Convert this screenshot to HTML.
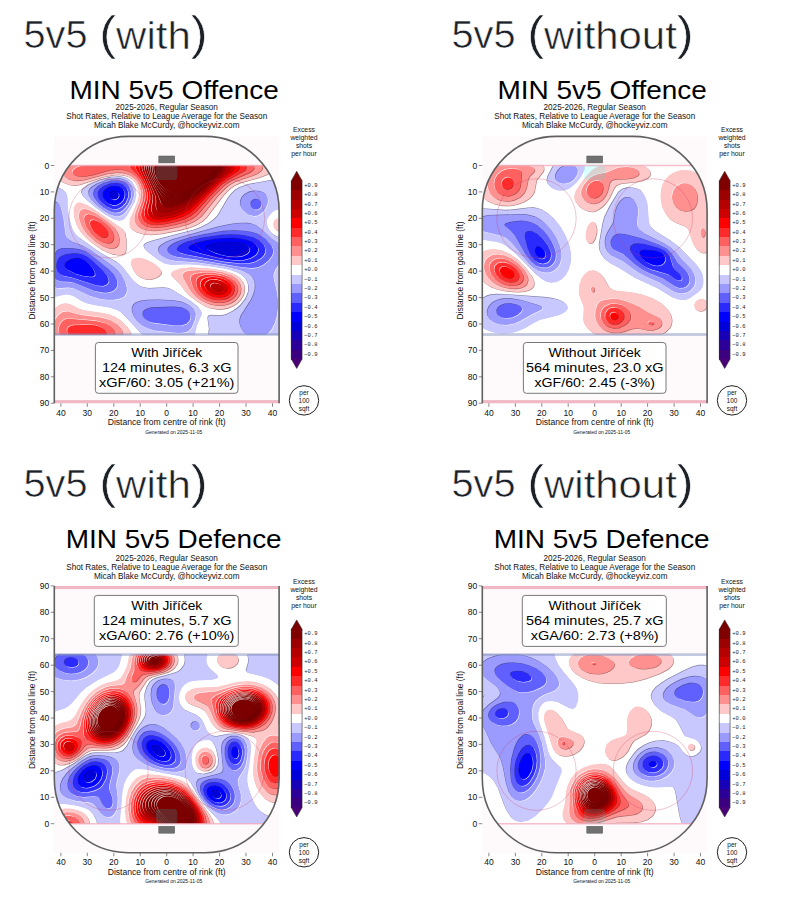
<!DOCTYPE html><html><head><meta charset="utf-8"><style>html,body{margin:0;padding:0;background:#fff;width:788px;height:898px;overflow:hidden}svg{position:absolute;left:0;top:0;font-family:"Liberation Sans",sans-serif}</style></head><body><svg width="788" height="898" viewBox="0 0 788 898"><defs><clipPath id="c0"><path d="M54.3 403.2L54.3 210.4A74.1 74.0 0 0 1 128.3 136.4L205.1 136.4A74.1 74.0 0 0 1 279.1 210.4L279.1 403.2Z"/></clipPath><clipPath id="c0r"><rect x="34.4" y="165.5" width="264.5" height="169.1"/></clipPath></defs><rect x="54.3" y="136.4" width="224.8" height="266.8" fill="#fefafb"/><g clip-path="url(#c0r)"><defs><path id="h1" d="M60.9 164l2.4-1.2l207.5 0l1.7 2.7l.4 2.6l-1.2 2.6l-1.2 1.4l-4.6 2.9l-6.6 2.5l-18.6 5.1l-5.9 2.7l-4.1 2.6l-3.2 2.8l-4.5 5.1l-16.2 21.2l-4.1 3.9l-5.6 3.6l-7.3 3l-9.9 2.6l-18.5 3.7l-10.6 .9l-7.9-.8l-6.6-1.9l-5.2-3.1l-1.5-2.7l-.2-3.9l.8-4l7.4-17.2l1.3-6.6l-.4-3.9l-1.7-5.3l-2.5-4l-2.6-2.6l-3.4-2l-3.9-1.3l-5.3-.7l-5.3 .2l-10.6 2.1l-23.8 7.7l-5.3 .7l-3.9-.4l-5.3-1.7l-7.1-3.3l-3.8-2.6l-1.8-2.7l0-2.6l1.5-2.7l2.8-2.6l4.1-2.7zM76.8 203.2l1.3-.6l2.6 0l6.7 2.6l7.9 5l27.1 18.7l2.6 3.9l1.1 6.6l-.1 10.6l-.8 2.6l-.8 1.1l-2.7 1.1l-3.9 .2l-5.3-.9l-5.3-1.8l-5.3-2.7l-6.6-4.3l-6-4.5l-5.6-5.3l-3.3-4l-2.5-4l-1.9-3.9l-1.6-5.3l-.8-5.3l.1-3.9l.6-2.7l1.7-2.6zM276.5 218.8l2.6-.4l1.3 .5l1.4 1l1.3 1.9l0 6.3l-1.3 1.8l-1.4 .8l-1.3 .3l-2.6-.6l-2.6-2.9l-.7-3.9l.6-2.1l1.4-1.9zM136.3 257.8l3.9 .1l4 .8l7.1 3.2l3.8 2.6l4.2 4l1.9 2.6l.3 1.4l-.3 1.3l-2.4 2.5l-2.5 1.4l-5.5 1.8l-5.3-.2l-5.3-2l-3-2.2l-2.4-2.6l-2.4-4l-1.4-4l-.2-2.6l1.2-2.6l3.5-1.4zM181.2 268.2l10.6-.9l18.5 1.2l13.3 2l9.2 2.9l3.3 1.7l3.3 2.4l3.4 4.2l1.1 2.7l.7 3.9l-.4 4l-.8 2.6l-2.6 4.5l-4 4l-4 2.6l-5.3 2.1l-5.3 1l-5.2 0l-6.7-1.1l-5.2-1.7l-6.7-4l-9.8-7.4l-3.7-3.9l-5.9-8l-7.8-7.9l-.3-1.3l.5-1.3l1.6-1.4l6.9-2.6zM60.9 304.1l4-.9l2.6 .2l2.7 .8l7.7 3.9l4.2 1.6l5.3 1.1l15.8 2.1l5.3 1.3l5.3 1.9l6.6 4l6.5 6.5l3.5 5.3l1 2.7l.2 2.6l-81.3 0l0-22.4l5.3-7.2l2.7-2.1l2.5-1.3z"/><path id="h2" d="M74.1 163.7l3-.9l182.8 0l2.2 2.7l.5 2.6l-1.5 2.6l-3.7 2.7l-4.7 2l-17.2 5.9l-5 2.7l-3.7 2.6l-9.1 9.2l-16.1 19.9l-3.2 2.8l-3.9 2.8l-6.6 3l-9.3 2.5l-14.5 3l-10.6 .9l-6.6-.7l-5.3-1.6l-4-2.5l-2.6-3.6l-.6-2.7l.2-3.9l1.1-4l4.3-10.6l1.1-6.6l-.7-5.3l-1.5-4.3l-2.6-4.6l-2.8-2.9l-3.8-2.5l-4-1.5l-4-.8l-5.3-.1l-9.2 1.3l-23.8 6.2l-6.6 .6l-5.2-.6l-3.7-1.3l-3-2.1l-1.6-1.9l-.4-2.6l1.4-2.7l1.3-1.3l3.2-2.1l4.2-1.9zM83.4 209.1l2.6 .1l2.7 .7l6.6 3.3l11.4 7.7l7.5 6.6l3.5 5.3l1.5 5.3l-.3 5.3l-1.1 2.3l-1.4 1.4l-2.6 1.2l-2.6 .2l-4-.7l-4-1.5l-7.9-4.8l-8-7.3l-3.1-4l-2.3-4l-1.7-3.9l-1.1-4l-.1-4l.7-2.6l1-1.4l2.7-1.2zM187.9 271.1l9.2-.9l14.6 .4l10.5 1.6l8 2.6l5.3 3.2l2.4 2.4l1.7 2.6l1.4 5.3l-.4 4l-1 2.6l-2.8 3.9l-2.7 2.3l-3.9 2.3l-5.3 1.6l-4 .4l-5.3-.2l-5.3-1l-5.2-1.9l-5.3-3l-4.2-3.1l-3.9-3.9l-2.7-4l-5.7-10.6l-.7-2.6l.4-1.3l1.3-1.3l3.2-1.4zM63.5 311.9l4-.3l13.2 3.5l19.9 2.3l9.2 2.7l6.6 3.9l3.9 3.9l1.6 2.7l.8 2.6l-.4 4l-68.2 0l-1.2-2.6l-.7-4l1.1-6.6l1.7-4l2.7-3.9l2.8-2.7l2.4-1.3z"/><path id="h3" d="M90 164.1l9.3-.5l15.8 .3l7.2-1.1l128.7 0l2.6 2.7l.4 2.6l-1.3 2.2l-2.3 1.8l-17.6 7.5l-5.3 3l-3.5 2.7l-10.5 10.5l-14.7 17.2l-3 2.9l-4 2.8l-6.6 3l-9.2 2.6l-11.9 2.5l-9.3 .7l-5.3-.5l-5.3-1.6l-4-2.9l-1.7-2.9l-.6-2.6l.3-4l4.6-13.2l.5-6.6l-1.1-5.3l-2-4.9l-2.6-4.3l-2.6-3l-4-2.9l-4-1.8l-3.9-1.2l-5.3-.6l-8 .8l-16.6 4.7l-8.5 1.6l-7.4-.3l-3.2-1.2l-1.4-1.4l-.3-1.3l.5-1.4l2.9-2.6l6.3-2.5l7.5-1.5zM88.7 214.3l5.3 1.4l5.3 2.9l6.6 5l3.8 3.9l2.6 4l1.4 4l-.2 3.9l-1.8 2.7l-1.9 .9l-2.6 .2l-5.3-1.5l-5.8-3.6l-5.7-5.3l-4.4-6.6l-1.7-5.3l-.1-2.6l.5-1.8l1.3-1.5l2.4-.7zM195.8 273.7l7.9-1.1l9.3 .2l7.9 1.1l7.4 2.5l5.8 4l2.7 4l.8 2.6l.1 2.6l-1 4l-1.8 2.6l-3.4 3l-4 2l-3.9 1l-4 .3l-5.3-.4l-5.3-1.4l-3.9-1.6l-4-2.4l-3.7-3.1l-3.1-4l-1.9-3.9l-1.3-5.3l-.2-2.7l.4-1.3l1.2-1.3l2.9-1.3zM68.8 318.7l26.5 2.2l9.2 2.2l5.3 2.7l3.6 3.5l1.4 3.9l-.4 2.7l-.6 1.3l-52 0l-1.8-2.6l-1-2.7l-.2-2.6l.8-3.8l1.5-2.8l2.4-2.5l2.7-1.2l2-.3z"/><path id="h4" d="M131 164.1l1.2-1.3l111.1 0l2.5 2.7l.5 1.3l-.7 2.6l-1.3 1.3l-15.4 8.3l-8 5.7l-12.3 12.5l-11.8 13.2l-6.3 5.3l-6.6 3.2l-7.9 2.5l-11.9 2.6l-8 .7l-5.3-.5l-3.9-1.3l-3-2l-1.9-2.6l-.8-2.6l0-2.7l4-13.2l.5-4l-.4-3.9l-2-6.6l-3.1-6.3l-3.9-5.1l-5.9-5.8l-.5-1.3l.2-1.3l.8-1.4zM91.3 220.4l2.7-.3l2.6 .8l4 2.4l3.4 2.9l2.1 2.7l1.4 2.6l.4 2.7l-.7 2.1l-1.3 1l-1.4 .2l-2.6-.4l-3.2-1.6l-3.4-2.7l-2.7-3l-1.9-3.6l-.8-2.6l.7-2.7zM206.4 275l6.6-.2l5.3 .6l5.3 1.4l5.3 2.6l2.7 2.3l2.5 4l.4 3.9l-1.4 4l-1.6 1.9l-2.8 2.1l-3.8 1.5l-4 .7l-3.9 0l-5.3-.9l-4-1.5l-4-2.2l-3.4-2.9l-2-2.7l-1.7-3.9l-.3-4l.8-2.6l1.3-1.6l2.7-1.4l4.4-1zM74.1 325.2l14.6-.4l5.3 .5l3.9 .8l4 1.7l2.2 1.5l1.8 2.6l.1 2.7l-1.8 2.6l-32.2 0l-3.2-2.6l-1.3-2.4l-.3-1.6l.3-1.6l1.3-1.9l1.4-.8l3.2-1z"/><path id="h5" d="M136.3 164l.6-1.2l100.3 0l2 2.7l.3 1.3l-.1 1.3l-1.9 2.6l-12.6 8.2l-5.3 4.1l-13.1 12.8l-12 12.7l-5.3 4.4l-6.6 3.4l-8 2.7l-9.2 2.2l-8 .8l-3.9-.3l-4-1.2l-3.2-2.2l-1.5-2.6l-.4-4l3.3-11.9l0-6.6l-1.4-5.3l-2.7-6.6l-7.9-13.2l-.2-1.3l.7-2.7zM207.7 277.6l5.3-.5l5.3 .5l3.9 1.1l4 1.9l2.8 2.4l1.7 2.7l.4 3.9l-1 2.7l-1.2 1.5l-2.7 1.8l-2.6 1.1l-4 .6l-6.6-.7l-6.6-2.9l-4.2-4.1l-1.2-2.6l-.4-2.6l.5-2.5l.9-1.5l1.7-1.4l3.2-1.3z"/><path id="h6" d="M140.2 163.1l92.2-.3l1.4 2.7l.2 1.3l-.2 1.3l-1.7 2.6l-15 11.9l-24 23.3l-5.2 4.3l-6.7 3.6l-7.9 2.8l-9.2 2.2l-6.7 .5l-3.9-.7l-2.7-1.3l-1.8-1.6l-.8-1.7l-.4-3.6l2.5-10.6l-.1-5.3l-.9-3.9l-2.6-6.6l-7.1-14.6l-.4-2.6l.6-2.7zM210.3 280.1l6.7-.2l3.9 1l2.7 1.3l2.4 2.2l1.3 2.6l-.1 2.6l-.6 1.4l-3 2.5l-4 1l-5.3-.4l-4.7-1.8l-3-2.7l-1.4-2.6l-.3-1.3l.7-2.7l1.2-1.3l2.5-1.3z"/><path id="h7" d="M142.9 163.6l.3-.8l85.3 0l1.1 4l-.8 2.6l-2.2 2.7l-10.7 9.2l-21.4 19.9l-6.6 5.5l-5.3 3.2l-7.5 3.1l-8.4 2.4l-6.6 .8l-2.7-.2l-2.6-.9l-1.3-.9l-1.6-2.5l-.2-4l1.4-7.9l-.2-4l-2.5-7.9l-7.7-17.2l-.6-3.9l.6-2.7zM211.7 284.3l2.6-1l4 .4l3.1 2l.7 1.3l0 1.3l-.8 1.3l-1.7 1l-2.6 .3l-2.7-.6l-2.6-1.7l-1-1.6l0-1.3l.9-1.3z"/><path id="h8" d="M145.5 162.9l79.8-.1l.7 4l-1.7 3.9l-3.7 4l-18.2 16.9l-13.2 10.8l-5.3 3.4l-6.6 3.1l-9.2 2.8l-5.4 .7l-3.9-.8l-1.5-1.2l-.7-1.3l-.5-2.7l.1-6.6l-.7-4l-10.1-23.7l-.8-4l.5-4z"/><path id="h9" d="M148.2 162.8l74.3 0l.5 4l-1.6 3.9l-4.7 5.3l-13 12.2l-10.6 8.5l-6.6 4.4l-6.6 3.2l-7.9 2.4l-5.3 .4l-2.9-.7l-2.3-2.6l-3-8l-9.1-18.4l-2.5-8l-.1-2.6l.9-4z"/><path id="h10" d="M149.5 163.4l.2-.6l70.3 0l.4 2.7l-.9 3.9l-3.9 5.3l-10.5 10.3l-8 6.6l-6.6 4.5l-6.6 3.5l-6.6 2.1l-5.3 .6l-4-.7l-2.6-1.7l-4-4.6l-5.3-8.1l-3.8-7.2l-2.6-6.6l-.9-5.3l.5-4z"/><path id="h11" d="M152.2 162.8l65.6 0l.3 2.7l-1 3.9l-3.7 5.3l-7 7.1l-8 6.8l-6.6 4.5l-6.6 3.4l-5.3 1.7l-5.3 .6l-3.9-.6l-4-1.9l-4-3.5l-5.3-6.8l-4-7.3l-2.3-6.6l-.5-4l.9-5.3z"/><path id="h12" d="M153.5 162.8l62.2 0l.2 2.7l-1 3.9l-2.5 4l-6.1 6.6l-7.9 6.8l-6.6 4.4l-5.3 2.6l-5.3 1.7l-5.2 .5l-5.3-.9l-4-2l-4-3.4l-3.9-4.8l-3.7-6.2l-2.3-6.6l-.4-5.3l.9-4z"/><path id="h13" d="M154.8 163.3l.1-.5l58.8 0l.2 2.7l-1 3.9l-2.5 4l-5.3 5.9l-6.7 5.7l-5.3 3.6l-5.2 2.8l-5.3 1.7l-5.3 .6l-5.3-.7l-4-1.7l-3.9-3l-4-4.3l-3.3-5.3l-2-5.3l-.7-5.3l.5-4z"/><path id="h14" d="M111.2 177.3l9.2-.5l4 .7l3.1 1.2l2.2 1.3l2.8 2.6l1.8 2.7l1.6 3.9l.5 6.6l-1.8 6.6l-7.6 13.4l-2.6 3.2l-2.7 1.5l-2.6 .2l-4-1l-5.3-2.6l-6.6-4.1l-7.2-5.3l-7.9-6.6l-4.1-3.9l-2.3-4l0-1.3l1.3-2.7l5.4-3.9l12.2-5.2l10.1-2.7zM283.1 177.1l0 33l-2.7-.6l-2.6 .2l-2.7 .9l-2.6 1.6l-4.1 4.8l-1.1 2.6l-.5 2.7l1.1 5.2l2 3.5l2.6 2.9l2.6 2l2.7 1.1l2.6 .5l2.7-.3l0 100l-74.7 0l1-7.9l-1.4-10.6l.1-1.3l.8-1.3l2.8-.7l9.2 .5l5.3-1.2l6.6-3.1l4-2.7l4-3.5l5-6.5l2.7-6.6l.2-6.6l-1.2-4l-1.5-2.6l-4.1-4l-4.7-2.6l-7-2.5l-8-1.8l-11.9-1.8l-14.5-1.6l-9.3-.4l-14.5 .6l-6.6-1.1l-6.6-3.6l-10.2-7.7l-3.7-3.9l-.9-2.7l.5-1.3l2.4-1.7l6.5-2.2l41.1-10.8l6.7-2.5l7.7-3.9l5.4-4l3.6-3.9l9.4-15.9l3.8-5.3l4-3.9l4.3-2.8l9.3-3.3l23.8-4.2l10.1-2.9zM51.6 186.7l5.3 .7l4 1.4l3 1.8l2.5 2.6l1.2 4l.2 9.2l.7 6.6l2.2 10.6l1.8 5.3l1.6 3.2l2.6 3.4l2.9 2.6l21 14.9l15.7 8.9l3.8 2.6l3.8 4l9.7 12.5l2.7 2.5l3.9 2.7l4 1.6l5.3 .8l14.6-.9l5.2 .8l4 2.1l18.5 11.5l6.1 4.7l3.1 4l1 2.6l-.1 1.3l-3.5 7.2l-1.7 4.7l-1.2 5.3l-.3 5.3l-50.4 0l-21.7-23.1l-2.7-2.2l-4-2.1l-6.6-2l-15.8-2.7l-6.6-1.6l-5.3-2.3l-8-4.8l-4-1.5l-3.9-.3l-4 .6l-7.9 2.1l-4 1.5l0-112.1z"/><path id="h15" d="M108.5 179.8l9.3-1.1l3.9 .4l3.2 .9l3.4 1.9l2.2 2.1l1.8 2.6l1 2.6l.6 2.7l.1 3.9l-2 6.6l-2.3 4.2l-4 5.3l-2.6 2.5l-2.7 1.4l-2.6 .6l-4-.6l-4-1.6l-4.5-2.5l-5.5-4l-4.5-3.9l-3.5-4l-2.5-4l-.5-3.9l1.2-2.7l1.2-1.3l6-3.9l10.6-4zM250 191.9l5.3-.9l5.3 .5l4 1.8l1.3 1.3l1.5 2.6l.5 2.6l-.1 2.6l-1.7 5.3l-1.7 2.7l-2.5 2.7l-3.9 2.4l-4 .6l-5.3-1.6l-5.1-4.1l-2.5-4l-.7-2.6l.2-2.7l1.7-3.9l2.5-2.7l5.2-2.6zM55.6 202.4l1.3 0l1.4 .8l1.3 1.7l1.3 3l2.6 11.2l1.9 15.1l.9 2.6l1.8 2.6l4.2 2.7l11.1 4.1l7.9 4.6l22.8 16.4l4.2 3.9l3.1 4l3.7 6.6l1.8 6.6l0 2.7l-.7 2.6l-1.8 2.6l-1.3 1l-4 1.6l-5.3 .9l-6.6 0l-6.6-.8l-10.6-3.1l-15.9-7.4l-5.3-1l-9.2 .7l-2.7-.2l-3.9-1.6l-2.7-2.7l0-38.3l1.1-7.2l-1.1-12.7l0-10.5l.7-4.5l1.2-4l1.6-2.6l1.7-1.4zM238.1 223.5l5.3-.3l5.3 .2l4 .8l3.9 1.5l5.3 3.9l10.6 9.9l10.6 7.2l0 11.8l-7.9 11.3l-1.7 5.3l.2 4l3.2 13.2l1.1 7.9l0 7.9l-1.2 8l-1.9 6.6l-3.3 6.6l-4.3 5.3l-3.6 2.6l-14.1 0l-3.6-2.7l-2.6-3l-2.1-3.6l-1.3-3.9l-.1-4l1.2-3.9l10.1-15.9l1.9-4l1.8-5.2l.5-5.3l-.5-4l-2-4l-2.7-2.6l-4.4-2.6l-5-2.1l-15.9-3.9l-26.5-4l-22.4-1.6l-5.3-.9l-4-1.3l-3.7-2.1l-2.9-2.6l-1.4-2.7l0-2.6l.7-1.3l2-2.1l5.4-3.2l6.5-2.6l45-12.5l11.9-2.4l7.4-1zM148.2 300.2l10.6-.2l15.8 .7l8 1.7l6.8 3.1l4.6 4l1.7 3.9l0 2.7l-.8 3.9l-3.1 7.2l-2.6 3.2l-2.7 1.5l-3.9 .9l-5.3 .1l-22.5-2.5l-6.6-2l-5.3-2.7l-5.3-4.4l-3-3.9l-2.2-5.3l-.1-4l1.3-3l2.7-2.3l5.3-1.8l6-.8z"/><path id="h16" d="M112.5 181.1l6.6-.1l5.8 1.6l2.1 1.5l2.2 2.5l2 5.3l-.1 5.3l-2.8 6.6l-2.6 3.5l-2.6 2.6l-2.7 1.8l-2.6 .8l-2.7 .2l-3.9-.9l-7.4-4.1l-3.3-2.6l-3.6-4l-2.5-3.9l-.7-2.7l.7-3.9l3.8-4l6.3-3.3l6.9-2zM254 199.8l1.3-.5l2.7 .2l2.2 1.6l.8 1.3l.4 1.4l-.4 2.6l-.8 1.3l-2.2 1.7l-2.7 .2l-1.3-.4l-1.8-1.5l-.8-1.3l-.4-2.6l.4-1.4l.8-1.3l1.7-1.3zM223.6 231.4l10.5-.6l10.6 .4l8 1.3l6.6 2.4l6.6 4.7l5.7 6.4l1.6 4l0 2.6l-.9 2.7l-3.8 5.2l-5.3 4.3l-5.2 2.5l-6.7 .8l-10.5-1.2l-42.4-7.2l-21.1-2.8l-4-1.1l-2.6-1.3l-2.1-1.9l-.6-1.3l.2-2.6l2.2-2.7l4.2-2.6l6.3-2.6l8.7-2.7l14.1-3.4l18.8-3.2zM62.2 248.6l11.9 .3l6.6 1l5.3 2l6.6 4.3l16.8 13.6l4.9 5.3l2.2 4l.8 2.6l0 4l-1.2 2.6l-2.3 2.2l-4 1.7l-3.9 .6l-4-.2l-7.9-1.9l-19.9-7.9l-5.3-1l-7.9-.3l-4-1.4l-2.6-2.9l-1.6-3.4l-.9-5.3l.1-5.3l1.3-5.3l2.4-4.7l2.7-2.9l3.5-1.6zM152.2 307.9l22.4-.8l8 .9l3.9 1.8l2.7 2.3l1.3 2.6l-.2 4l-1.2 2.6l-2.6 2.5l-5.3 1.6l-6.6 0l-22.4-2.8l-3.5-1.3l-3.2-2l-1.6-1.9l-1-2.7l.6-2.6l1.1-1.3l2.3-1.5l4-1.2z"/><path id="h17" d="M111.2 183.8l6.6-.5l5.3 1.6l3.4 3l1.7 4l-.2 5.3l-2.3 5.2l-4 4.3l-3.9 2.1l-2.7 .4l-2.6-.3l-5.3-2.2l-5.2-4.3l-2.1-2.6l-1.3-2.6l-.4-4l1.1-2.6l1-1.4l4.2-3l5.8-2.2zM220.9 235.4l9.3-.5l9.2 .2l8 1.1l7 1.9l5.1 2.7l4.1 3.9l1.8 4l-.3 3.9l-1.4 2.7l-2.5 2.6l-5.9 3.6l-6.6 1.7l-7.9 .3l-17.2-1.9l-38.4-7.3l-5.2-1.7l-1.8-1.3l-.8-1.3l0-1.3l2.1-2.7l4.4-2.5l3.6-1.4l15.1-4l17.4-2.6zM71.5 253.9l5.3-.2l5.3 .9l5.3 2.5l4.7 3.5l11.1 10.5l4 4.9l1.5 4.4l-.2 1.6l-1.3 2.2l-4 1.7l-6.6-.5l-23.8-7.7l-10.6-2.3l-2.6-1.6l-1.9-2.7l-.9-3.9l.4-4l1.1-2.8l1.7-2.5l2.2-1.7l4-1.4l4.8-.8z"/><path id="h18" d="M112.5 186.5l3.9-.2l4 1l2.7 2.2l1.6 3.7l-.3 3.8l-1.3 3l-2.7 3l-4 2l-3.9 .1l-4-1.6l-2.9-2.4l-2.4-3.9l-.1-4l1.5-2.6l3.6-2.7l3.7-1.3zM215.6 239.3l9.3-.8l9.2-.1l6.7 .6l6.6 1.4l4.5 1.7l3.9 2.6l1.9 2.7l.4 1.3l-.2 2.6l-1.3 2.4l-1.4 1.6l-5.2 3l-6.6 1.6l-7.9 .3l-9.3-.9l-9.2-1.8l-24-6.2l-2.9-1.3l-1.2-1.3l.1-1.3l1.3-1.4l5.5-2.6l9.3-2.4l9.5-1.6zM72.8 259l4-.6l2.6 .1l2.8 .8l3.8 2l3.7 3.2l3 4l2 4l.1 2.6l-1.5 1.3l-2 .4l-6.6-.5l-9-2.5l-8.1-4l-2.4-2.6l-.1-2.7l1.9-2.6l4.9-2.6z"/><path id="h19" d="M112.5 191.5l2.6-.4l1.3 .3l2.2 1.8l.3 2.6l-1.1 2.1l-1.4 1.1l-2.6 .6l-1.3-.3l-1.6-.8l-1.1-1.3l-.4-2.7l.6-1.3l1.6-1.3zM227.5 242.1l9.3 .3l7.9 2l3 1.6l1.3 1.4l.6 1.3l-.2 2.6l-2.6 2.7l-4.7 1.9l-5.3 .8l-6.6-.2l-7.5-1.2l-8.3-2.7l-5.7-2.6l-1.8-1.3l-.5-1.3l1.1-1.4l5.5-1.9l6.6-1.3l7.9-.7z"/></defs><g clip-path="url(#c0)"><rect x="50.3" y="162.8" width="232.8" height="174.4" fill="#fff"/><use href="#h1" x="-0.55" y="-0.55" fill="#fff" fill-opacity="0.80"/><use href="#h1" x="0.55" y="0.55" fill="#600000" fill-opacity="0.50"/><use href="#h1" fill="#ffc8c8"/><use href="#h2" x="-0.55" y="-0.55" fill="#fff" fill-opacity="0.80"/><use href="#h2" x="0.55" y="0.55" fill="#600000" fill-opacity="0.50"/><use href="#h2" fill="#ff9090"/><use href="#h3" x="-0.55" y="-0.55" fill="#fff" fill-opacity="0.80"/><use href="#h3" x="0.55" y="0.55" fill="#600000" fill-opacity="0.50"/><use href="#h3" fill="#ff6060"/><use href="#h4" x="-0.55" y="-0.55" fill="#fff" fill-opacity="0.80"/><use href="#h4" x="0.55" y="0.55" fill="#600000" fill-opacity="0.50"/><use href="#h4" fill="#ff2a2a"/><use href="#h5" x="-0.55" y="-0.55" fill="#fff" fill-opacity="0.80"/><use href="#h5" x="0.55" y="0.55" fill="#600000" fill-opacity="0.50"/><use href="#h5" fill="#ff0000"/><use href="#h6" x="-0.55" y="-0.55" fill="#fff" fill-opacity="0.80"/><use href="#h6" x="0.55" y="0.55" fill="#600000" fill-opacity="0.50"/><use href="#h6" fill="#cc0000"/><use href="#h7" x="-0.55" y="-0.55" fill="#fff" fill-opacity="0.80"/><use href="#h7" x="0.55" y="0.55" fill="#600000" fill-opacity="0.50"/><use href="#h7" fill="#b40000"/><use href="#h8" x="-0.55" y="-0.55" fill="#fff" fill-opacity="0.80"/><use href="#h8" x="0.55" y="0.55" fill="#600000" fill-opacity="0.50"/><use href="#h8" fill="#9d0000"/><use href="#h9" x="-0.55" y="-0.55" fill="#fff" fill-opacity="0.80"/><use href="#h9" x="0.55" y="0.55" fill="#600000" fill-opacity="0.50"/><use href="#h9" fill="#800000"/><use href="#h10" x="-0.55" y="-0.55" fill="#fff" fill-opacity="0.80"/><use href="#h10" x="0.55" y="0.55" fill="#600000" fill-opacity="0.50"/><use href="#h10" fill="#7c0000"/><use href="#h11" x="-0.55" y="-0.55" fill="#fff" fill-opacity="0.80"/><use href="#h11" x="0.55" y="0.55" fill="#600000" fill-opacity="0.50"/><use href="#h11" fill="#7c0000"/><use href="#h12" x="-0.55" y="-0.55" fill="#fff" fill-opacity="0.80"/><use href="#h12" x="0.55" y="0.55" fill="#600000" fill-opacity="0.50"/><use href="#h12" fill="#7c0000"/><use href="#h13" x="-0.55" y="-0.55" fill="#fff" fill-opacity="0.80"/><use href="#h13" x="0.55" y="0.55" fill="#600000" fill-opacity="0.50"/><use href="#h13" fill="#7c0000"/><use href="#h14" x="0.55" y="0.55" fill="#fff" fill-opacity="0.80"/><use href="#h14" x="-0.55" y="-0.55" fill="#000050" fill-opacity="0.50"/><use href="#h14" fill="#c8c8ff"/><use href="#h15" x="0.55" y="0.55" fill="#fff" fill-opacity="0.80"/><use href="#h15" x="-0.55" y="-0.55" fill="#000050" fill-opacity="0.50"/><use href="#h15" fill="#9a9aff"/><use href="#h16" x="0.55" y="0.55" fill="#fff" fill-opacity="0.80"/><use href="#h16" x="-0.55" y="-0.55" fill="#000050" fill-opacity="0.50"/><use href="#h16" fill="#6060ff"/><use href="#h17" x="0.55" y="0.55" fill="#fff" fill-opacity="0.80"/><use href="#h17" x="-0.55" y="-0.55" fill="#000050" fill-opacity="0.50"/><use href="#h17" fill="#2a2aff"/><use href="#h18" x="0.55" y="0.55" fill="#fff" fill-opacity="0.80"/><use href="#h18" x="-0.55" y="-0.55" fill="#000050" fill-opacity="0.50"/><use href="#h18" fill="#0000ff"/><use href="#h19" x="0.55" y="0.55" fill="#fff" fill-opacity="0.80"/><use href="#h19" x="-0.55" y="-0.55" fill="#000050" fill-opacity="0.50"/><use href="#h19" fill="#0000d8"/></g></g><ellipse cx="108.5" cy="218.3" rx="39.7" ry="39.6" fill="none" stroke="#c83050" stroke-width="0.5" opacity="0.55"/><ellipse cx="224.9" cy="218.3" rx="39.7" ry="39.6" fill="none" stroke="#c83050" stroke-width="0.5" opacity="0.55"/><rect x="54.3" y="333.2" width="224.8" height="2.6" fill="#8090c0" opacity="0.5"/><rect x="54.3" y="400.1" width="224.8" height="3.2" fill="#f0b8c4"/><line x1="54.3" y1="165.5" x2="279.1" y2="165.5" stroke="#f4b0c0" stroke-width="1.6" opacity="0.8" clip-path="url(#c0)"/><rect x="156.1" y="165.5" width="21.2" height="14.5" rx="3" fill="#00ffff" opacity="0.15"/><rect x="158.8" y="156.0" width="15.9" height="6.9" fill="#707070" stroke="#555" stroke-width="0.5"/><path d="M54.3 403.2L54.3 210.4A74.1 74.0 0 0 1 128.3 136.4L205.1 136.4A74.1 74.0 0 0 1 279.1 210.4L279.1 403.2" fill="none" stroke="#606060" stroke-width="1.6"/><text x="23.5" y="47.8" font-size="38.00" text-anchor="start" fill="#1c2128" textLength="64.0" lengthAdjust="spacingAndGlyphs" stroke="#fff" stroke-width="0.55">5v5</text><text x="99.2" y="48.8" font-size="38" fill="#1c2128" textLength="108.5" lengthAdjust="spacingAndGlyphs" stroke="#fff" stroke-width="0.55"><tspan font-size="46">(</tspan>with<tspan font-size="46">)</tspan></text><text x="174.2" y="98.5" font-size="25.50" text-anchor="middle" fill="#000" textLength="209.5" lengthAdjust="spacingAndGlyphs">MIN 5v5 Offence</text><text x="166.7" y="109.7" font-size="8.20" text-anchor="middle" fill="#111">2025-2026, Regular Season</text><text x="166.7" y="118.6" font-size="8.20" text-anchor="middle" fill="#111">Shot Rates, Relative to League Average for the Season</text><text x="166.7" y="127.5" font-size="8.20" text-anchor="middle" fill="#111">Micah Blake McCurdy, @hockeyviz.com</text><line x1="50.8" y1="165.5" x2="54.3" y2="165.5" stroke="#555" stroke-width="0.7"/><text x="49.3" y="168.5" font-size="8.50" text-anchor="end" fill="#111">0</text><line x1="50.8" y1="191.9" x2="54.3" y2="191.9" stroke="#555" stroke-width="0.7"/><text x="49.3" y="194.9" font-size="8.50" text-anchor="end" fill="#111">10</text><line x1="50.8" y1="218.3" x2="54.3" y2="218.3" stroke="#555" stroke-width="0.7"/><text x="49.3" y="221.3" font-size="8.50" text-anchor="end" fill="#111">20</text><line x1="50.8" y1="244.7" x2="54.3" y2="244.7" stroke="#555" stroke-width="0.7"/><text x="49.3" y="247.7" font-size="8.50" text-anchor="end" fill="#111">30</text><line x1="50.8" y1="271.1" x2="54.3" y2="271.1" stroke="#555" stroke-width="0.7"/><text x="49.3" y="274.1" font-size="8.50" text-anchor="end" fill="#111">40</text><line x1="50.8" y1="297.6" x2="54.3" y2="297.6" stroke="#555" stroke-width="0.7"/><text x="49.3" y="300.6" font-size="8.50" text-anchor="end" fill="#111">50</text><line x1="50.8" y1="324.0" x2="54.3" y2="324.0" stroke="#555" stroke-width="0.7"/><text x="49.3" y="327.0" font-size="8.50" text-anchor="end" fill="#111">60</text><line x1="50.8" y1="350.4" x2="54.3" y2="350.4" stroke="#555" stroke-width="0.7"/><text x="49.3" y="353.4" font-size="8.50" text-anchor="end" fill="#111">70</text><line x1="50.8" y1="376.8" x2="54.3" y2="376.8" stroke="#555" stroke-width="0.7"/><text x="49.3" y="379.8" font-size="8.50" text-anchor="end" fill="#111">80</text><line x1="50.8" y1="403.2" x2="54.3" y2="403.2" stroke="#555" stroke-width="0.7"/><text x="49.3" y="406.2" font-size="8.50" text-anchor="end" fill="#111">90</text><line x1="60.9" y1="403.3" x2="60.9" y2="406.8" stroke="#555" stroke-width="0.7"/><text x="60.9" y="415.8" font-size="8.50" text-anchor="middle" fill="#111">40</text><line x1="87.3" y1="403.3" x2="87.3" y2="406.8" stroke="#555" stroke-width="0.7"/><text x="87.3" y="415.8" font-size="8.50" text-anchor="middle" fill="#111">30</text><line x1="113.8" y1="403.3" x2="113.8" y2="406.8" stroke="#555" stroke-width="0.7"/><text x="113.8" y="415.8" font-size="8.50" text-anchor="middle" fill="#111">20</text><line x1="140.2" y1="403.3" x2="140.2" y2="406.8" stroke="#555" stroke-width="0.7"/><text x="140.2" y="415.8" font-size="8.50" text-anchor="middle" fill="#111">10</text><line x1="166.7" y1="403.3" x2="166.7" y2="406.8" stroke="#555" stroke-width="0.7"/><text x="166.7" y="415.8" font-size="8.50" text-anchor="middle" fill="#111">0</text><line x1="193.1" y1="403.3" x2="193.1" y2="406.8" stroke="#555" stroke-width="0.7"/><text x="193.1" y="415.8" font-size="8.50" text-anchor="middle" fill="#111">10</text><line x1="219.6" y1="403.3" x2="219.6" y2="406.8" stroke="#555" stroke-width="0.7"/><text x="219.6" y="415.8" font-size="8.50" text-anchor="middle" fill="#111">20</text><line x1="246.0" y1="403.3" x2="246.0" y2="406.8" stroke="#555" stroke-width="0.7"/><text x="246.0" y="415.8" font-size="8.50" text-anchor="middle" fill="#111">30</text><line x1="272.5" y1="403.3" x2="272.5" y2="406.8" stroke="#555" stroke-width="0.7"/><text x="272.5" y="415.8" font-size="8.50" text-anchor="middle" fill="#111">40</text><text x="166.7" y="425.0" font-size="8.30" text-anchor="middle" fill="#111" textLength="118.0" lengthAdjust="spacingAndGlyphs">Distance from centre of rink (ft)</text><text x="173.7" y="433.5" font-size="4.60" text-anchor="middle" fill="#111" textLength="57.0" lengthAdjust="spacingAndGlyphs">Generated on 2025-11-05</text><text transform="translate(35.3 270.5) rotate(-90)" font-size="8.3" text-anchor="middle" fill="#111" textLength="98" lengthAdjust="spacingAndGlyphs">Distance from goal line (ft)</text><rect x="95.4" y="342.5" width="142.6" height="50.8" rx="3" fill="#fff" stroke="#555" stroke-width="0.8"/><text x="166.7" y="357.0" font-size="13.50" text-anchor="middle" fill="#000" textLength="71.0" lengthAdjust="spacingAndGlyphs">With Jiříček</text><text x="166.7" y="372.2" font-size="13.50" text-anchor="middle" fill="#000" textLength="129.5" lengthAdjust="spacingAndGlyphs">124 minutes, 6.3 xG</text><text x="166.7" y="387.4" font-size="13.50" text-anchor="middle" fill="#000" textLength="135.5" lengthAdjust="spacingAndGlyphs">xGF/60: 3.05 (+21%)</text><path d="M291.3 180.7L296.7 171.3L302.1 180.7V181.7H291.3Z" fill="#7c0000"/><rect x="291.3" y="180.7" width="10.8" height="9.99" fill="#800000" shape-rendering="crispEdges"/><text x="304.3" y="186.7" font-size="6.00" text-anchor="start" fill="#222" textLength="13.2" lengthAdjust="spacingAndGlyphs" font-family="Liberation Mono">+0.9</text><rect x="291.3" y="190.1" width="10.8" height="9.99" fill="#9d0000" shape-rendering="crispEdges"/><text x="304.3" y="196.1" font-size="6.00" text-anchor="start" fill="#222" textLength="13.2" lengthAdjust="spacingAndGlyphs" font-family="Liberation Mono">+0.8</text><rect x="291.3" y="199.5" width="10.8" height="9.99" fill="#b40000" shape-rendering="crispEdges"/><text x="304.3" y="205.5" font-size="6.00" text-anchor="start" fill="#222" textLength="13.2" lengthAdjust="spacingAndGlyphs" font-family="Liberation Mono">+0.7</text><rect x="291.3" y="208.8" width="10.8" height="9.99" fill="#cc0000" shape-rendering="crispEdges"/><text x="304.3" y="214.8" font-size="6.00" text-anchor="start" fill="#222" textLength="13.2" lengthAdjust="spacingAndGlyphs" font-family="Liberation Mono">+0.6</text><rect x="291.3" y="218.2" width="10.8" height="9.99" fill="#ff0000" shape-rendering="crispEdges"/><text x="304.3" y="224.2" font-size="6.00" text-anchor="start" fill="#222" textLength="13.2" lengthAdjust="spacingAndGlyphs" font-family="Liberation Mono">+0.5</text><rect x="291.3" y="227.6" width="10.8" height="9.99" fill="#ff2a2a" shape-rendering="crispEdges"/><text x="304.3" y="233.6" font-size="6.00" text-anchor="start" fill="#222" textLength="13.2" lengthAdjust="spacingAndGlyphs" font-family="Liberation Mono">+0.4</text><rect x="291.3" y="237.0" width="10.8" height="9.99" fill="#ff6060" shape-rendering="crispEdges"/><text x="304.3" y="243.0" font-size="6.00" text-anchor="start" fill="#222" textLength="13.2" lengthAdjust="spacingAndGlyphs" font-family="Liberation Mono">+0.3</text><rect x="291.3" y="246.4" width="10.8" height="9.99" fill="#ff9090" shape-rendering="crispEdges"/><text x="304.3" y="252.4" font-size="6.00" text-anchor="start" fill="#222" textLength="13.2" lengthAdjust="spacingAndGlyphs" font-family="Liberation Mono">+0.2</text><rect x="291.3" y="255.8" width="10.8" height="9.99" fill="#ffc8c8" shape-rendering="crispEdges"/><text x="304.3" y="261.8" font-size="6.00" text-anchor="start" fill="#222" textLength="13.2" lengthAdjust="spacingAndGlyphs" font-family="Liberation Mono">+0.1</text><rect x="291.3" y="265.2" width="10.8" height="9.99" fill="#ffffff" shape-rendering="crispEdges"/><text x="304.3" y="271.2" font-size="6.00" text-anchor="start" fill="#222" textLength="13.2" lengthAdjust="spacingAndGlyphs" font-family="Liberation Mono">+0.0</text><rect x="291.3" y="274.5" width="10.8" height="9.99" fill="#c8c8ff" shape-rendering="crispEdges"/><text x="304.3" y="280.5" font-size="6.00" text-anchor="start" fill="#222" textLength="13.2" lengthAdjust="spacingAndGlyphs" font-family="Liberation Mono">−0.1</text><rect x="291.3" y="283.9" width="10.8" height="9.99" fill="#9a9aff" shape-rendering="crispEdges"/><text x="304.3" y="289.9" font-size="6.00" text-anchor="start" fill="#222" textLength="13.2" lengthAdjust="spacingAndGlyphs" font-family="Liberation Mono">−0.2</text><rect x="291.3" y="293.3" width="10.8" height="9.99" fill="#6060ff" shape-rendering="crispEdges"/><text x="304.3" y="299.3" font-size="6.00" text-anchor="start" fill="#222" textLength="13.2" lengthAdjust="spacingAndGlyphs" font-family="Liberation Mono">−0.3</text><rect x="291.3" y="302.7" width="10.8" height="9.99" fill="#2a2aff" shape-rendering="crispEdges"/><text x="304.3" y="308.7" font-size="6.00" text-anchor="start" fill="#222" textLength="13.2" lengthAdjust="spacingAndGlyphs" font-family="Liberation Mono">−0.4</text><rect x="291.3" y="312.1" width="10.8" height="9.99" fill="#0000ff" shape-rendering="crispEdges"/><text x="304.3" y="318.1" font-size="6.00" text-anchor="start" fill="#222" textLength="13.2" lengthAdjust="spacingAndGlyphs" font-family="Liberation Mono">−0.5</text><rect x="291.3" y="321.5" width="10.8" height="9.99" fill="#0000d8" shape-rendering="crispEdges"/><text x="304.3" y="327.5" font-size="6.00" text-anchor="start" fill="#222" textLength="13.2" lengthAdjust="spacingAndGlyphs" font-family="Liberation Mono">−0.6</text><rect x="291.3" y="330.9" width="10.8" height="9.99" fill="#1800b8" shape-rendering="crispEdges"/><text x="304.3" y="336.9" font-size="6.00" text-anchor="start" fill="#222" textLength="13.2" lengthAdjust="spacingAndGlyphs" font-family="Liberation Mono">−0.7</text><rect x="291.3" y="340.2" width="10.8" height="9.99" fill="#2c0098" shape-rendering="crispEdges"/><text x="304.3" y="346.2" font-size="6.00" text-anchor="start" fill="#222" textLength="13.2" lengthAdjust="spacingAndGlyphs" font-family="Liberation Mono">−0.8</text><rect x="291.3" y="349.6" width="10.8" height="9.99" fill="#3a0080" shape-rendering="crispEdges"/><text x="304.3" y="355.6" font-size="6.00" text-anchor="start" fill="#222" textLength="13.2" lengthAdjust="spacingAndGlyphs" font-family="Liberation Mono">−0.9</text><path d="M291.3 359.0L296.7 368.4L302.1 359.0V358.5H291.3Z" fill="#4a0078"/><path d="M291.3 180.7L296.7 171.3L302.1 180.7L302.1 359.0L296.7 368.4L291.3 359.0Z" fill="none" stroke="#333" stroke-width="0.6"/><text x="304.0" y="131.9" font-size="6.80" text-anchor="middle" fill="#111">Excess</text><text x="304.0" y="140.0" font-size="6.80" text-anchor="middle" fill="#111">weighted</text><text x="304.0" y="148.0" font-size="6.80" text-anchor="middle" fill="#111">shots</text><text x="304.0" y="156.1" font-size="6.80" text-anchor="middle" fill="#111">per hour</text><circle cx="304.0" cy="400.4" r="14.7" fill="#fff" stroke="#222" stroke-width="1.0"/><text x="304.0" y="394.8" font-size="6.50" text-anchor="middle" fill="#111">per</text><text x="304.0" y="402.8" font-size="6.50" text-anchor="middle" fill="#111">100</text><text x="304.0" y="410.8" font-size="6.50" text-anchor="middle" fill="#111">sqft</text><defs><clipPath id="c1"><path d="M482.3 403.2L482.3 210.4A74.1 74.0 0 0 1 556.3 136.4L633.1 136.4A74.1 74.0 0 0 1 707.1 210.4L707.1 403.2Z"/></clipPath><clipPath id="c1r"><rect x="462.5" y="165.5" width="264.5" height="169.1"/></clipPath></defs><rect x="482.3" y="136.4" width="224.8" height="266.8" fill="#fefafb"/><g clip-path="url(#c1r)"><defs><path id="h20" d="M486.3 163.7l.8-.9l52.3 0l3.6 2.7l.8 1.3l.2 2.6l-1.1 2.7l-6.3 7.9l-2.3 11.9l-2.3 3.9l-2.6 2.7l-6.1 3.7l-6.6 2.3l-6.6 1.2l-8-.1l-7.9-1.6l-6.7-2.9l-4.8-3.9l-3.2-5.3l-1.2-5.2l0-6l.6-3.3l2.3-6.7l4.6-6.6zM607.9 164l5.9-1.2l23.2 .1l5.3 1.8l5.4 3.4l2.1 2.6l.6 2.7l-.2 1.3l-.5 1.3l-2.1 2.1l-5.3 2.6l-6.6 1.3l-14.5 1.5l-4.7 1.8l-2.3 2.6l-4.3 9.3l-3.3 5l-4 4.4l-5.3 3.7l-2.6 1.1l-2.6 .4l-4-.6l-4-1.5l-5.3-3.6l-3.6-5l-.9-2.6l-.1-2.7l1.6-5.2l7-10.2l5.3-6.4l4-3.9l3.9-2.7l2.7-1.2l8.4-2.1zM679.3 170.5l4-.6l5.3 .3l4 1.1l3.9 1.9l4 2.9l3.6 3.9l2.5 4l1.6 3.9l1.7 7.9l.5 11.9l.7 4.7l0 36.2l-2.7 2.8l-2.6 1.4l-2.7 .2l-2.6-.7l-4-3.2l-3.6-5.7l-3.9-11.9l-1.7-3.3l-2.7-2.2l-9.2-3.6l-5.3-3.3l-4.3-4.8l-3.3-6.6l-1.4-5.3l-.6-6.6l.6-6.6l1.5-5.2l2.2-4l3.6-4l4.3-3l5.6-2.3zM592.1 221.7l1.3 .1l1.3 .9l1.3 2.2l.9 4l-.2 3.9l-1.3 5.3l-2 3.5l-1.3 1.3l-2.7 .5l-1.3-.7l-1.4-1.9l-.9-2.7l-.3-3.9l1.5-6.7l1.4-2.6l2.5-2.6zM486.3 250l6.6-1.1l7.9 1l7.9 3.3l8 5.5l8.5 8.5l6.9 9.2l1.6 4l.5 2.6l-.4 2.7l-1.3 2.1l-2.6 2l-5.3 1.6l-6.6 .5l-7.9-.4l-8-1.1l-6.6-1.7l-5.3-2.1l-5.5-3.6l-3.8-3.9l-2.6-4l0-20.1l4-3.3l3.8-1.7zM589.4 270.7l2.7-.5l2.6 .3l2.6 1.1l2.7 1.8l3.7 4.3l5.2 9.3l3 2.3l4 1.1l17.2 2l9.2 2l9.3 3.3l9 5.1l6 5.3l2.9 4l1.3 2.6l1 4l.1 2.6l-.8 4l-1.5 2.6l-3.5 3.7l-4 2.4l-3.9 1.6l-6.2 1.6l-52 0l-6.9-4l-6-5.3l-3.4-5.2l-.7-4l.7-10.6l-1-3.9l-3.2-8l-.7-3.9l.3-6.6l2.1-6.6l2.9-4.6l4.3-3.4zM700.5 298.7l2.6 .2l2.3 1.3l1.1 1.3l.8 2.7l-.4 2.6l-1.8 2.7l-2 1.2l-2.6 .6l-2.6-.5l-2.1-1.3l-.9-1.4l-.7-2.6l.7-2.7l.8-1.3l2.2-1.8l1.9-.8z"/><path id="h21" d="M503.4 164l8-.9l10.6 1.2l9.2 2.3l2.6 1.5l.8 1.3l-.1 1.3l-.8 1.4l-3.8 3.9l-1.7 2.7l-1.7 9.2l-2.5 5.3l-4 4l-6 2.9l-3.9 .9l-4 .2l-4-.4l-3.9-1.2l-2.7-1.4l-3.1-2.4l-2.1-2.6l-1.9-4l-.7-3.9l.1-4l.9-3.9l1.9-4l2.3-3.1l2.6-2.5l3.9-2.3l3.5-1.4zM618.5 167.8l7.9-.9l6.7 .9l3.5 1.6l1.5 1.3l1 2.7l-.5 1.3l-1.3 1.3l-4.2 2l-6.7 1l-10.5 .1l-4 1.1l-2 2.4l-2.5 9.3l-1.8 3.9l-3 3.9l-3.9 2.8l-4 1.2l-4-.2l-3.9-1.5l-2.7-2.2l-2.5-4l-.5-2.6l.2-2.6l2.3-5.3l4.5-5.6l2.6-2.2l4-2.3l4-1.2l7.9-1.4l10.8-4.5zM682 183.6l2.6-.3l2.7 .3l3.9 1.7l3.9 3.9l1.8 4l.7 5.3l-1.1 6l-2.6 4.1l-4 2.2l-5.3 .5l-5.3-1.5l-3.9-3.2l-2.5-4.2l-1-5.2l1-5.3l1.3-2.7l2.2-2.6l4.4-2.6zM701.8 228.3l1.3 0l.7 .6l1.3 2.6l-.3 4l-1.7 1.6l-1.3-.5l-1.2-2.4l-.1-3.4l.9-1.9zM492.9 255.1l5.3-.6l6.6 1.1l6.6 3l6.3 4.6l6.1 6.6l3.1 5.3l.9 2.6l.2 2.7l-1.4 4l-2 1.8l-4 1.7l-5.2 .7l-5.3-.2l-5.3-.9l-5.3-1.7l-4-2l-4-2.8l-3.1-3.3l-2.5-3.9l-1.5-4l-.4-3.9l.8-4l1.6-2.6l2.5-2.3l3.5-1.7zM592.1 286.7l1.3 .1l.9 1.5l.1 2.7l-1 1.1l-1.3-.3l-1.2-2.2l0-1.3l.7-1.3zM604 300.1l7.9-1l6.6 .2l6.6 1.6l8.4 3.3l5.4 2.6l8.6 5.3l10.7 5.1l1.7 1.5l1.7 2.6l.2 2.7l-.4 1.3l-.9 1.3l-2.3 1.9l-5.3 1.7l-5.3 0l-9.3-1.9l-2.6-.1l-4 .8l-7.9 2.6l-5.3 1.1l-6.6-.1l-5.3-1.5l-4-2.2l-3.7-3.6l-2.4-4l-1.3-5.2l.3-5.3l1.8-6l2.7-3.2l3.4-1.4z"/><path id="h22" d="M507.4 169.2l5.3-.4l5.1 .6l2.9 1.3l.8 1.4l.1 1.3l-1.1 11.9l-.7 2.6l-1.5 2.7l-1.6 1.9l-2.9 2l-3.7 1.3l-2.7 .4l-5.3-.9l-3.9-2.4l-2.8-3.7l-1.2-5.2l1-5.3l2.4-4l4.5-3.6l4.2-1.7zM594.7 181l4-.1l2.6 1.5l1.3 2.4l.5 3.1l-.8 4l-1.6 2.6l-3.2 2.7l-2.8 .7l-2.6-.2l-2.7-1.2l-1.8-2l-.9-2.6l.1-2.7l1.3-3.1l2.6-3l3.1-1.8zM496.8 259l4-.4l5.3 .9l5.3 2.4l5.3 3.9l3.9 4.6l2.4 4.7l.3 4l-1.3 3l-2.7 2l-2.6 .9l-6.6 .4l-4-.7l-4-1.3l-3.9-2.1l-2.9-2.2l-4.2-5.3l-1.4-4l-.2-2.6l.5-2.7l1.5-2.4l1.7-1.5l2.8-1.3zM610.6 304.1l5.3-.3l5.3 1.3l3.9 2.2l3.6 3.5l1.8 3.9l-.3 4l-2.5 4l-3.2 2.6l-6 2.6l-5.3 .4l-5.5-1.7l-2.4-1.6l-2.2-2.3l-1.5-2.7l-.7-2.6l.1-4l.8-2.6l1.7-2.7l1.8-1.7l4.9-2.2zM650.2 321.3l2.7 .6l.8 .8l0 1.3l-2.1 1l-3.2-1l-.3-1.3l2.1-1.4z"/><path id="h23" d="M504.8 178.4l2.6-1l1.3 0l2.7 1.3l.9 1.3l.8 2.6l-.3 2.7l-1.4 2.3l-1.3 .9l-2.5 .7l-1.5-.1l-2.5-1.2l-1.1-1.3l-.6-1.3l-.1-2.7l1.2-2.6l1.3-1.3zM498.2 263.2l3.9-.8l4 .5l4 1.6l3.9 2.7l2.7 2.9l2 3.7l.4 2.6l-1.1 3.1l-1.3 1.2l-2.2 1l-4.4 .5l-5.3-1.2l-5.8-3.3l-3.3-3.9l-1.4-4l.8-3.9l3-2.7zM611.9 307.9l4-.2l2.6 .8l3.3 2.3l1.8 2.6l.5 2.7l-.5 2.6l-1.8 2.6l-3.3 2.3l-2.6 .7l-4-.2l-3.2-1.4l-2.5-2.7l-1-2.6l.3-4l2.4-3.6l3.1-1.7z"/><path id="h24" d="M502.1 267.1l2.7-.4l2.4 .5l4.2 2.4l1.4 1.5l1.1 2.7l-.5 2.6l-2 1.5l-2.7 .2l-3.9-1.1l-2.7-1.8l-1.3-1.5l-1.1-2.6l.6-2.6l1.6-1.3zM611.9 313l2.6-.6l2.7 1.3l1 2.4l-.3 1.3l-1 1.3l-2.4 1l-1.3-.1l-1.8-.9l-1-1.3l-.2-1.3l.2-1.4l1-1.3z"/><path id="h25" d="M555 163.3l.5-.5l28.1 0l1.1 2.7l-.1 3.9l-1.6 4l-2.3 4l-4.5 5.5l-4 3.6l-2.6 1.9l-4 1.8l-4 .6l-3.9-.3l-4-1.4l-2.6-1.7l-2.7-3l-1.2-3.1l.1-2.6l.9-2.7l6.2-11.9zM627.8 187.9l5.3 .1l5.1 1.2l2.8 1.7l3 3.6l2.3 5.1l1.4 5.5l1.3 17.2l.8 2.6l1.7 2.6l4.4 4l15.5 9.8l7.9 6l17 17.2l4.7 6.6l1.7 4l.7 4l0 3.9l-.9 4l-1.4 2.6l-2.6 2.7l-8.6 6l-3.9 1.6l-4 .2l-4-.7l-5.3-1.9l-15.2-9.2l-21.8-10.1l-15.6-9.7l-9.5-4.9l-5.3-4.1l-3.3-4.2l-2.3-5.3l-.4-5.3l3.7-21.1l1.8-6.6l5.3-10.6l8.4-13.9l3.9-3.3l4.8-1.3zM479.6 208.6l26.5 1.8l7.9-.5l14.6-1.9l5.3-.1l3.9 .6l4 1.3l6.6 4l6.3 5.8l6.3 7.9l5.2 9.3l3.4 9.2l1.5 8l-.1 7.9l-2.2 7.9l-3.2 5.7l-4 4l-5.3 2.7l-5.2 .6l-4-.9l-4-2l-6.6-5.3l-19.8-20.2l-10.6-8.6l-4-2.2l-5.3-1.7l-18.5-2.6l0-30.6zM491.5 294.9l5.3-.5l8 .2l39.6 2.8l8 1l6.6 1.7l5.3 2.4l3 3l.6 2.6l-.4 1.4l-1.9 2.3l-4 2.4l-5.3 1.8l-16.3 4l-5.6 2.7l-9.8 5.8l-6.6 2.8l-5.3 1.4l-6.6 .9l-5.3 0l-5.3-.7l-5.3-1.4l-5-2.2l-3.7-2.7l-3.2-3.4l0-19.6l2.8-3.4l3.3-2.6l3.2-1.7l3.6-1z"/><path id="h26" d="M566.9 165.4l5.3 .1l4 2l1.3 1.9l.4 1.3l-.7 4l-2.6 4l-2.4 2.2l-2.6 1.5l-5.3 1.3l-4-.7l-2.6-1.5l-1.4-1.5l-.8-2.6l.3-2.7l1.9-3.6l2.6-2.8l2.7-1.7l3.7-1.1zM623.8 198.5l2.6-1l4 .3l3.3 2l2.8 4l1.3 3.9l.4 4l-1.2 10.6l.1 2.6l.8 2.6l2 2.7l5.4 4l19.5 9.8l6.6 4.3l4.6 4.3l6 7.1l9.6 10.1l2.8 5.3l.9 4l0 2.6l-.6 2.7l-1.2 2.6l-3.6 3.9l-3.9 1.9l-4 .6l-4-.5l-3.9-1.4l-13.3-8.5l-14.5-6.5l-6.6-3.5l-5.3-3.4l-10.6-8.1l-11.9-5.8l-4-4l-1.6-3l-.9-4l-.1-3.9l.8-4l1.8-4.3l5.3-8.9l.8-2.7l1.4-9.2l1.9-5.3l2.5-4.3l4-3.6zM488.9 215.5l31.7-.9l6.7 .3l7.9 2l7 4l4.9 4.3l5.3 6.3l4.1 6.6l3.4 7.9l1.5 6.6l0 5.3l-1.3 5.3l-2.3 4l-4.1 3.6l-4 1.6l-5.3 .2l-5.2-1.6l-5.3-3.3l-4-3.5l-17.2-20.8l-5.3-4.9l-6.6-3l-16.6-4l-5.3-2.6l-.6-.6l0-9.2l3.9-2.1l5.6-1.3zM503.4 298.9l8.5 0l10.1 1.6l16.9 5l2.8 1.3l1 1.3l-.9 1.4l-2.4 1.3l-6.9 3.1l-11.9 6.9l-5.2 2.4l-8 1.7l-7.9-.4l-5.3-1.9l-4-3l-2.3-3.5l-.6-2.7l.1-2.6l1.6-4l3.5-4l4.9-2.6l6-1.3z"/><path id="h27" d="M512.7 222l9.3-.9l7.9 1.1l4 1.5l3.9 2.2l6.6 5.6l3.3 4l3.5 5.3l2.6 5.2l1.7 5.3l.4 4l-.5 4l-1.1 2.6l-2.1 2.6l-2.5 1.9l-2.6 1l-5.3 .2l-5.3-1.9l-4.8-3.8l-6-7.9l-10.3-18.1l-4-4.6l-6-5.1l-.4-1.3l1.7-1.3l4.7-1.3zM619.8 234l5.3 .5l15.9 4.1l18.5 6.7l7.9 4.1l4.8 4.6l5.8 9.2l7.9 7.9l1.9 2.7l1.2 2.6l.6 2.7l-.2 2.6l-1.2 2.7l-2.2 2.3l-2.7 1.1l-4 .2l-3.9-1.4l-11.9-7.9l-14.6-5.8l-6.6-3.4l-7-5l-11.5-10.3l-9.3-4.3l-1.3-1.2l-1.6-2.7l-.5-2.6l.3-2.6l2.2-4l2.3-1.7l2.7-.9zM504.8 304.1l6.6-.4l6.6 1.5l2.7 1.6l1.1 1.3l.3 1.4l-.4 1.3l-.9 1.3l-3.1 2.6l-5.5 2.7l-6.1 .9l-4.7-.9l-2.3-1.3l-1.2-1.4l-.7-1.3l-.3-2.6l1.2-2.7l1.2-1.3l1.9-1.3l3.4-1.3z"/><path id="h28" d="M528.6 231.5l3.9 .3l5.3 2.6l5.3 4.8l5.3 7.2l2.2 4.9l.6 4l-1 4l-1.8 2.3l-1.3 1l-4 1.1l-3.9-.6l-4-2.4l-3.5-4.1l-3.5-7.9l-2.8-10.6l0-2.6l.5-2.1l1.4-1.4l1.2-.5zM634.4 244.4l3.9-.6l6.7 .8l14.5 3.9l5.7 2.8l2.9 2.7l1.7 2.6l3.3 10.6l2.3 3.1l5.2 4.8l1.2 2.6l-.1 1.4l-1 1.3l-2.7 .1l-2.6-1.3l-6.6-4.8l-17.2-4.8l-5.3-2.4l-4.3-2.7l-6-5.2l-4.5-6.7l-.9-2.6l.1-2.6l.9-1.4l1.9-1.3z"/><path id="h29" d="M537.8 246.8l1.4 0l2.6 1.3l2.9 3.2l.9 4l-1.2 2.4l-1.3 .8l-1.3 .2l-2.6-.6l-2.8-2.8l-1.1-4l.5-2.6l.9-1.3zM645 250l11.9 1.2l5.2 2.1l2.2 2l1 2.6l-.2 2.7l-1.4 2.6l-2.9 2.1l-3.9 .5l-5.3-1.2l-5.5-2.7l-4.3-4l-1.8-3.9l.1-1.4l.8-1.3l1.4-.8l2.4-.5z"/></defs><g clip-path="url(#c1)"><rect x="478.3" y="162.8" width="232.8" height="174.4" fill="#fff"/><use href="#h20" x="-0.55" y="-0.55" fill="#fff" fill-opacity="0.80"/><use href="#h20" x="0.55" y="0.55" fill="#600000" fill-opacity="0.50"/><use href="#h20" fill="#ffc8c8"/><use href="#h21" x="-0.55" y="-0.55" fill="#fff" fill-opacity="0.80"/><use href="#h21" x="0.55" y="0.55" fill="#600000" fill-opacity="0.50"/><use href="#h21" fill="#ff9090"/><use href="#h22" x="-0.55" y="-0.55" fill="#fff" fill-opacity="0.80"/><use href="#h22" x="0.55" y="0.55" fill="#600000" fill-opacity="0.50"/><use href="#h22" fill="#ff6060"/><use href="#h23" x="-0.55" y="-0.55" fill="#fff" fill-opacity="0.80"/><use href="#h23" x="0.55" y="0.55" fill="#600000" fill-opacity="0.50"/><use href="#h23" fill="#ff2a2a"/><use href="#h24" x="-0.55" y="-0.55" fill="#fff" fill-opacity="0.80"/><use href="#h24" x="0.55" y="0.55" fill="#600000" fill-opacity="0.50"/><use href="#h24" fill="#ff0000"/><use href="#h25" x="0.55" y="0.55" fill="#fff" fill-opacity="0.80"/><use href="#h25" x="-0.55" y="-0.55" fill="#000050" fill-opacity="0.50"/><use href="#h25" fill="#c8c8ff"/><use href="#h26" x="0.55" y="0.55" fill="#fff" fill-opacity="0.80"/><use href="#h26" x="-0.55" y="-0.55" fill="#000050" fill-opacity="0.50"/><use href="#h26" fill="#9a9aff"/><use href="#h27" x="0.55" y="0.55" fill="#fff" fill-opacity="0.80"/><use href="#h27" x="-0.55" y="-0.55" fill="#000050" fill-opacity="0.50"/><use href="#h27" fill="#6060ff"/><use href="#h28" x="0.55" y="0.55" fill="#fff" fill-opacity="0.80"/><use href="#h28" x="-0.55" y="-0.55" fill="#000050" fill-opacity="0.50"/><use href="#h28" fill="#2a2aff"/><use href="#h29" x="0.55" y="0.55" fill="#fff" fill-opacity="0.80"/><use href="#h29" x="-0.55" y="-0.55" fill="#000050" fill-opacity="0.50"/><use href="#h29" fill="#0000ff"/></g></g><ellipse cx="536.5" cy="218.3" rx="39.7" ry="39.6" fill="none" stroke="#c83050" stroke-width="0.5" opacity="0.55"/><ellipse cx="652.9" cy="218.3" rx="39.7" ry="39.6" fill="none" stroke="#c83050" stroke-width="0.5" opacity="0.55"/><rect x="482.3" y="333.2" width="224.8" height="2.6" fill="#8090c0" opacity="0.5"/><rect x="482.3" y="400.1" width="224.8" height="3.2" fill="#f0b8c4"/><line x1="482.3" y1="165.5" x2="707.1" y2="165.5" stroke="#f4b0c0" stroke-width="1.6" opacity="0.8" clip-path="url(#c1)"/><rect x="584.1" y="165.5" width="21.2" height="14.5" rx="3" fill="#00ffff" opacity="0.15"/><rect x="586.8" y="156.0" width="15.9" height="6.9" fill="#707070" stroke="#555" stroke-width="0.5"/><path d="M482.3 403.2L482.3 210.4A74.1 74.0 0 0 1 556.3 136.4L633.1 136.4A74.1 74.0 0 0 1 707.1 210.4L707.1 403.2" fill="none" stroke="#606060" stroke-width="1.6"/><text x="451.5" y="47.8" font-size="38.00" text-anchor="start" fill="#1c2128" textLength="64.0" lengthAdjust="spacingAndGlyphs" stroke="#fff" stroke-width="0.55">5v5</text><text x="527.2" y="48.8" font-size="38" fill="#1c2128" textLength="166.5" lengthAdjust="spacingAndGlyphs" stroke="#fff" stroke-width="0.55"><tspan font-size="46">(</tspan>without<tspan font-size="46">)</tspan></text><text x="602.2" y="98.5" font-size="25.50" text-anchor="middle" fill="#000" textLength="209.5" lengthAdjust="spacingAndGlyphs">MIN 5v5 Offence</text><text x="594.7" y="109.7" font-size="8.20" text-anchor="middle" fill="#111">2025-2026, Regular Season</text><text x="594.7" y="118.6" font-size="8.20" text-anchor="middle" fill="#111">Shot Rates, Relative to League Average for the Season</text><text x="594.7" y="127.5" font-size="8.20" text-anchor="middle" fill="#111">Micah Blake McCurdy, @hockeyviz.com</text><line x1="478.8" y1="165.5" x2="482.3" y2="165.5" stroke="#555" stroke-width="0.7"/><text x="477.3" y="168.5" font-size="8.50" text-anchor="end" fill="#111">0</text><line x1="478.8" y1="191.9" x2="482.3" y2="191.9" stroke="#555" stroke-width="0.7"/><text x="477.3" y="194.9" font-size="8.50" text-anchor="end" fill="#111">10</text><line x1="478.8" y1="218.3" x2="482.3" y2="218.3" stroke="#555" stroke-width="0.7"/><text x="477.3" y="221.3" font-size="8.50" text-anchor="end" fill="#111">20</text><line x1="478.8" y1="244.7" x2="482.3" y2="244.7" stroke="#555" stroke-width="0.7"/><text x="477.3" y="247.7" font-size="8.50" text-anchor="end" fill="#111">30</text><line x1="478.8" y1="271.1" x2="482.3" y2="271.1" stroke="#555" stroke-width="0.7"/><text x="477.3" y="274.1" font-size="8.50" text-anchor="end" fill="#111">40</text><line x1="478.8" y1="297.6" x2="482.3" y2="297.6" stroke="#555" stroke-width="0.7"/><text x="477.3" y="300.6" font-size="8.50" text-anchor="end" fill="#111">50</text><line x1="478.8" y1="324.0" x2="482.3" y2="324.0" stroke="#555" stroke-width="0.7"/><text x="477.3" y="327.0" font-size="8.50" text-anchor="end" fill="#111">60</text><line x1="478.8" y1="350.4" x2="482.3" y2="350.4" stroke="#555" stroke-width="0.7"/><text x="477.3" y="353.4" font-size="8.50" text-anchor="end" fill="#111">70</text><line x1="478.8" y1="376.8" x2="482.3" y2="376.8" stroke="#555" stroke-width="0.7"/><text x="477.3" y="379.8" font-size="8.50" text-anchor="end" fill="#111">80</text><line x1="478.8" y1="403.2" x2="482.3" y2="403.2" stroke="#555" stroke-width="0.7"/><text x="477.3" y="406.2" font-size="8.50" text-anchor="end" fill="#111">90</text><line x1="488.9" y1="403.3" x2="488.9" y2="406.8" stroke="#555" stroke-width="0.7"/><text x="488.9" y="415.8" font-size="8.50" text-anchor="middle" fill="#111">40</text><line x1="515.4" y1="403.3" x2="515.4" y2="406.8" stroke="#555" stroke-width="0.7"/><text x="515.4" y="415.8" font-size="8.50" text-anchor="middle" fill="#111">30</text><line x1="541.8" y1="403.3" x2="541.8" y2="406.8" stroke="#555" stroke-width="0.7"/><text x="541.8" y="415.8" font-size="8.50" text-anchor="middle" fill="#111">20</text><line x1="568.2" y1="403.3" x2="568.2" y2="406.8" stroke="#555" stroke-width="0.7"/><text x="568.2" y="415.8" font-size="8.50" text-anchor="middle" fill="#111">10</text><line x1="594.7" y1="403.3" x2="594.7" y2="406.8" stroke="#555" stroke-width="0.7"/><text x="594.7" y="415.8" font-size="8.50" text-anchor="middle" fill="#111">0</text><line x1="621.2" y1="403.3" x2="621.2" y2="406.8" stroke="#555" stroke-width="0.7"/><text x="621.2" y="415.8" font-size="8.50" text-anchor="middle" fill="#111">10</text><line x1="647.6" y1="403.3" x2="647.6" y2="406.8" stroke="#555" stroke-width="0.7"/><text x="647.6" y="415.8" font-size="8.50" text-anchor="middle" fill="#111">20</text><line x1="674.1" y1="403.3" x2="674.1" y2="406.8" stroke="#555" stroke-width="0.7"/><text x="674.1" y="415.8" font-size="8.50" text-anchor="middle" fill="#111">30</text><line x1="700.5" y1="403.3" x2="700.5" y2="406.8" stroke="#555" stroke-width="0.7"/><text x="700.5" y="415.8" font-size="8.50" text-anchor="middle" fill="#111">40</text><text x="594.7" y="425.0" font-size="8.30" text-anchor="middle" fill="#111" textLength="118.0" lengthAdjust="spacingAndGlyphs">Distance from centre of rink (ft)</text><text x="601.7" y="433.5" font-size="4.60" text-anchor="middle" fill="#111" textLength="57.0" lengthAdjust="spacingAndGlyphs">Generated on 2025-11-05</text><text transform="translate(463.3 270.5) rotate(-90)" font-size="8.3" text-anchor="middle" fill="#111" textLength="98" lengthAdjust="spacingAndGlyphs">Distance from goal line (ft)</text><rect x="523.4" y="342.5" width="142.6" height="50.8" rx="3" fill="#fff" stroke="#555" stroke-width="0.8"/><text x="594.7" y="357.0" font-size="13.50" text-anchor="middle" fill="#000" textLength="92.5" lengthAdjust="spacingAndGlyphs">Without Jiříček</text><text x="594.7" y="372.2" font-size="13.50" text-anchor="middle" fill="#000" textLength="137.5" lengthAdjust="spacingAndGlyphs">564 minutes, 23.0 xG</text><text x="594.7" y="387.4" font-size="13.50" text-anchor="middle" fill="#000" textLength="120.5" lengthAdjust="spacingAndGlyphs">xGF/60: 2.45 (-3%)</text><path d="M719.3 180.7L724.7 171.3L730.1 180.7V181.7H719.3Z" fill="#7c0000"/><rect x="719.3" y="180.7" width="10.8" height="9.99" fill="#800000" shape-rendering="crispEdges"/><text x="732.3" y="186.7" font-size="6.00" text-anchor="start" fill="#222" textLength="13.2" lengthAdjust="spacingAndGlyphs" font-family="Liberation Mono">+0.9</text><rect x="719.3" y="190.1" width="10.8" height="9.99" fill="#9d0000" shape-rendering="crispEdges"/><text x="732.3" y="196.1" font-size="6.00" text-anchor="start" fill="#222" textLength="13.2" lengthAdjust="spacingAndGlyphs" font-family="Liberation Mono">+0.8</text><rect x="719.3" y="199.5" width="10.8" height="9.99" fill="#b40000" shape-rendering="crispEdges"/><text x="732.3" y="205.5" font-size="6.00" text-anchor="start" fill="#222" textLength="13.2" lengthAdjust="spacingAndGlyphs" font-family="Liberation Mono">+0.7</text><rect x="719.3" y="208.8" width="10.8" height="9.99" fill="#cc0000" shape-rendering="crispEdges"/><text x="732.3" y="214.8" font-size="6.00" text-anchor="start" fill="#222" textLength="13.2" lengthAdjust="spacingAndGlyphs" font-family="Liberation Mono">+0.6</text><rect x="719.3" y="218.2" width="10.8" height="9.99" fill="#ff0000" shape-rendering="crispEdges"/><text x="732.3" y="224.2" font-size="6.00" text-anchor="start" fill="#222" textLength="13.2" lengthAdjust="spacingAndGlyphs" font-family="Liberation Mono">+0.5</text><rect x="719.3" y="227.6" width="10.8" height="9.99" fill="#ff2a2a" shape-rendering="crispEdges"/><text x="732.3" y="233.6" font-size="6.00" text-anchor="start" fill="#222" textLength="13.2" lengthAdjust="spacingAndGlyphs" font-family="Liberation Mono">+0.4</text><rect x="719.3" y="237.0" width="10.8" height="9.99" fill="#ff6060" shape-rendering="crispEdges"/><text x="732.3" y="243.0" font-size="6.00" text-anchor="start" fill="#222" textLength="13.2" lengthAdjust="spacingAndGlyphs" font-family="Liberation Mono">+0.3</text><rect x="719.3" y="246.4" width="10.8" height="9.99" fill="#ff9090" shape-rendering="crispEdges"/><text x="732.3" y="252.4" font-size="6.00" text-anchor="start" fill="#222" textLength="13.2" lengthAdjust="spacingAndGlyphs" font-family="Liberation Mono">+0.2</text><rect x="719.3" y="255.8" width="10.8" height="9.99" fill="#ffc8c8" shape-rendering="crispEdges"/><text x="732.3" y="261.8" font-size="6.00" text-anchor="start" fill="#222" textLength="13.2" lengthAdjust="spacingAndGlyphs" font-family="Liberation Mono">+0.1</text><rect x="719.3" y="265.2" width="10.8" height="9.99" fill="#ffffff" shape-rendering="crispEdges"/><text x="732.3" y="271.2" font-size="6.00" text-anchor="start" fill="#222" textLength="13.2" lengthAdjust="spacingAndGlyphs" font-family="Liberation Mono">+0.0</text><rect x="719.3" y="274.5" width="10.8" height="9.99" fill="#c8c8ff" shape-rendering="crispEdges"/><text x="732.3" y="280.5" font-size="6.00" text-anchor="start" fill="#222" textLength="13.2" lengthAdjust="spacingAndGlyphs" font-family="Liberation Mono">−0.1</text><rect x="719.3" y="283.9" width="10.8" height="9.99" fill="#9a9aff" shape-rendering="crispEdges"/><text x="732.3" y="289.9" font-size="6.00" text-anchor="start" fill="#222" textLength="13.2" lengthAdjust="spacingAndGlyphs" font-family="Liberation Mono">−0.2</text><rect x="719.3" y="293.3" width="10.8" height="9.99" fill="#6060ff" shape-rendering="crispEdges"/><text x="732.3" y="299.3" font-size="6.00" text-anchor="start" fill="#222" textLength="13.2" lengthAdjust="spacingAndGlyphs" font-family="Liberation Mono">−0.3</text><rect x="719.3" y="302.7" width="10.8" height="9.99" fill="#2a2aff" shape-rendering="crispEdges"/><text x="732.3" y="308.7" font-size="6.00" text-anchor="start" fill="#222" textLength="13.2" lengthAdjust="spacingAndGlyphs" font-family="Liberation Mono">−0.4</text><rect x="719.3" y="312.1" width="10.8" height="9.99" fill="#0000ff" shape-rendering="crispEdges"/><text x="732.3" y="318.1" font-size="6.00" text-anchor="start" fill="#222" textLength="13.2" lengthAdjust="spacingAndGlyphs" font-family="Liberation Mono">−0.5</text><rect x="719.3" y="321.5" width="10.8" height="9.99" fill="#0000d8" shape-rendering="crispEdges"/><text x="732.3" y="327.5" font-size="6.00" text-anchor="start" fill="#222" textLength="13.2" lengthAdjust="spacingAndGlyphs" font-family="Liberation Mono">−0.6</text><rect x="719.3" y="330.9" width="10.8" height="9.99" fill="#1800b8" shape-rendering="crispEdges"/><text x="732.3" y="336.9" font-size="6.00" text-anchor="start" fill="#222" textLength="13.2" lengthAdjust="spacingAndGlyphs" font-family="Liberation Mono">−0.7</text><rect x="719.3" y="340.2" width="10.8" height="9.99" fill="#2c0098" shape-rendering="crispEdges"/><text x="732.3" y="346.2" font-size="6.00" text-anchor="start" fill="#222" textLength="13.2" lengthAdjust="spacingAndGlyphs" font-family="Liberation Mono">−0.8</text><rect x="719.3" y="349.6" width="10.8" height="9.99" fill="#3a0080" shape-rendering="crispEdges"/><text x="732.3" y="355.6" font-size="6.00" text-anchor="start" fill="#222" textLength="13.2" lengthAdjust="spacingAndGlyphs" font-family="Liberation Mono">−0.9</text><path d="M719.3 359.0L724.7 368.4L730.1 359.0V358.5H719.3Z" fill="#4a0078"/><path d="M719.3 180.7L724.7 171.3L730.1 180.7L730.1 359.0L724.7 368.4L719.3 359.0Z" fill="none" stroke="#333" stroke-width="0.6"/><text x="732.0" y="131.9" font-size="6.80" text-anchor="middle" fill="#111">Excess</text><text x="732.0" y="140.0" font-size="6.80" text-anchor="middle" fill="#111">weighted</text><text x="732.0" y="148.0" font-size="6.80" text-anchor="middle" fill="#111">shots</text><text x="732.0" y="156.1" font-size="6.80" text-anchor="middle" fill="#111">per hour</text><circle cx="732.0" cy="400.4" r="14.7" fill="#fff" stroke="#222" stroke-width="1.0"/><text x="732.0" y="394.8" font-size="6.50" text-anchor="middle" fill="#111">per</text><text x="732.0" y="402.8" font-size="6.50" text-anchor="middle" fill="#111">100</text><text x="732.0" y="410.8" font-size="6.50" text-anchor="middle" fill="#111">sqft</text><defs><clipPath id="c2"><path d="M54.3 585.9L54.3 778.8A74.1 74.0 0 0 0 128.3 852.7L205.1 852.7A74.1 74.0 0 0 0 279.1 778.8L279.1 585.9Z"/></clipPath><clipPath id="c2r"><rect x="34.4" y="654.6" width="264.5" height="169.1"/></clipPath></defs><rect x="54.3" y="585.9" width="224.8" height="266.8" fill="#fefafb"/><g clip-path="url(#c2r)"><defs><path id="h30" d="M51.6 826.3l37.7 0l.2-2.6l-.8-4l-1.3-2.6l-2.2-2.7l-3.1-2.2l-3.8-1.7l-4.2-1.2l-5.3-.7l-3.9 0l-4 .6l-3.6 1.3l-3 1.7l-2.7 2.4l-1.3 1.7l0 10zM128.3 826.3l85.8 0l-1.6-6.6l-3-5.3l-17.7-25l-5.3-5.9l-5.3-3.1l-7.9-2.6l-14.5-2.7l-10.6-.9l-6.6 1l-5.3 3l-4.3 4.5l-3.7 6.7l-2.3 9.2l-1 11.9l.9 9.2l2.2 6.6zM269.9 801.5l2.6 .8l4 .2l3.9-.9l2.7-1.3l0-70.4l-2.8-2.7l-1.6-2.6l-.4-4l1.2-9.2l-.1-6.6l-1.8-6.6l-3.2-5.3l-4.5-4.4l-6.7-4l-7.9-2.5l-7.9-.9l-10.6 .9l-19.8 5l-15.9 .5l-5.3 .6l-4 1.1l-3.9 2.1l-1.6 1.6l-1.3 2.6l0 2.7l1.1 2.6l1.8 1.9l2.6 1.6l9.3 3.4l4 2.4l2.6 3.2l5.2 10l2.7 3.2l2.7 2.2l2.6 1.4l4 1.2l13.2 1l8 1.6l7.9 2.3l2.5 1.6l1.2 2.7l-.1 2.6l-2.3 14.5l-.9 10.6l.1 6.6l.9 5.3l2.2 6.6l3.7 6.6l4.6 5.1l4.5 2.8zM203.7 771l4-.4l4-2.1l2.3-2.9l1.2-4l-.4-5.3l-1.8-4.2l-2.7-2.9l-3.9-1.6l-4 .3l-3.1 1.8l-3 4l-1 3.9l.2 5.3l1.5 4l2.5 2.6l3.1 1.3zM58.3 764.6l2.6 .3l4-.3l6.6-2.1l6.6-3.8l7.9-6l4-2l4-.6l11.9 .2l6.6-.7l5.3-1.5l5.3-3.5l3.5-4.1l3.5-5.3l6.8-11.9l2.3-5.3l1-4l.3-5.2l-1.7-13.3l.3-2.6l1.2-2.6l6-9.3l2.7-2.6l2.7-1.4l16.3-4.9l4-2.1l2.6-2.2l2.6-4l.8-3.9l-.6-4l-2-4l-43.9 0l-2.7 5.3l-1.6 8l-1.4 3.9l-2.7 5.2l-2.8 4.1l-3.9 2.2l-9.2 2.2l-4 1.4l-5.3 2.7l-3.9 2.7l-5.3 4.6l-4.4 5.3l-4.2 6.6l-4.7 8.8l-2.6 3.6l-4 2.5l-7.9 2.1l-4 1.7l-3.9 2.8l-2.7 2.9l0 28.9l2.7 2.6l4.2 2.2zM224.9 667.9l4 .2l2.6-.5l2.7-1.1l2.9-2.7l1.2-2.6l0-2.6l-1.3-2.7l-1.5-1.6l-2.7-1.5l-2.6-.8l-5-.1l-4.3 1.5l-2.8 2.5l-1.3 2.7l.5 3.9l2.3 3l2.6 1.5l2.4 .8z"/><path id="h31" d="M54.3 826.3l29.5 0l.2-3.9l-1.7-4l-1.6-1.8l-2.6-2l-5.3-2l-6.6-.3l-5.3 1.3l-2.6 1.6l-2.1 1.9l-2.3 3.9l-.3 2.7l.3 2.6zM132.3 825.1l.8 1.2l76.5 0l.1-1.3l-1.2-6.6l-3.3-6.6l-12.1-17.4l-6.6-7.5l-5.3-3.6l-7.9-3.1l-10.6-2.2l-9.2-.6l-6.6 .7l-4 1.3l-2.7 1.5l-4.8 4.5l-4 6.6l-2.4 7.9l-.8 9.2l.9 8l1.2 3.9l1.9 4zM273.8 794.8l2.7 0l2.6-.7l4-2.2l0-52.8l-4-2.5l-5.3-1.2l-3.9 .6l-2.7 1.6l-4.4 5.5l-2.2 4.6l-2 6l-1 5.3l-.5 6.6l.2 5.2l.8 5.3l1.7 5.3l1.9 4l2.8 3.9l2.7 2.6l2.7 1.7l3.2 1zM202.4 767.4l2.7 .6l2.6-.6l2.5-1.8l1.5-2.7l.5-2.6l-.7-4l-1.8-2.6l-2-1.5l-2.6-.6l-2.7 .6l-1.9 1.5l-1.7 2.6l-.6 2.7l.2 3.3l1.4 2.9l1.7 1.7zM60.9 760.7l5.3 .4l6.6-1.7l5.2-3.1l8-7.1l2.7-1.4l3.9-.4l11.9 .6l6.7-.8l6.6-2.5l5.3-4.1l3.9-4.9l4.4-7.1l3.2-6.6l2-6.6l.3-8l-1-5.3l-2.4-7.9l-.2-2.6l.4-1.3l5.3-5.3l4.9-6.6l1.6-1.5l2.7-1.3l14.5-3.5l4-1.7l4-2.8l2.8-3.8l.9-3.9l-.7-4l-2.4-4l-35.7 0l-1.9 2.7l-1.2 2.6l-2.1 11.9l-3.2 6.6l-2.3 6.6l-.9 1.4l-2.7 1.3l-8.8 .8l-5.3 1l-5.3 2.1l-5.3 3.1l-5.6 4.9l-5.1 6.6l-4.2 7.9l-4.7 11.9l-1.6 2.2l-2.8 1.7l-7.7 1.4l-4 1.2l-4 2.3l-2.9 3.1l-1.6 2.6l-1.4 4l-.4 3.9l.5 4l1.5 4l1.8 2.6l2.5 2.4l2.9 1.6zM242.1 731.3l10.6 .8l9.2-1.6l2.7-1.2l2.6-2.1l4-5.2l1.9-4l1.7-5.3l.5-5.3l-.4-3.9l-1.2-4l-2.3-4l-2.2-2.6l-3.1-2.6l-5.5-3.1l-5.3-1.8l-5.3-.9l-6.6-.1l-9.3 1.5l-18.5 5.6l-15.8 1.4l-3.7 1.3l-1.6 1.3l-.5 1.4l.3 1.3l1.2 1.3l9.6 4.6l2.6 2.1l2.3 3.9l3.8 9.2l2.8 4l2.8 2.6l2.8 1.7l4 1.4l15 2.2z"/><path id="h32" d="M59.6 826.3l19 0l.4-3.9l-1.3-2.7l-3.3-2.6l-4.2-1.2l-4 .1l-4 1.6l-2.3 2.1l-1.3 2.7l.4 3.9zM137.6 826l68.7 .3l.2-3.9l-1.5-6.6l-4.2-8l-9-12.6l-6.6-6.7l-6.6-4.1l-6.6-2.4l-7.9-1.6l-8-.5l-6.6 .8l-6.6 2.6l-2.7 1.9l-2.8 2.8l-4 6.6l-2.2 7.9l-.2 9.3l.7 4l1.4 3.9l3.4 5.3zM272.5 788.3l2.6 .4l2.7-.4l2.6-1.2l2.7-2.2l0-38.7l-4-2.9l-4-1l-2.6 .3l-2.6 1.2l-4 3.9l-2 3.3l-1.6 4l-1.5 7.9l.3 7.9l2.2 8l3.9 6.1l2.7 2.2l1.9 .9zM203.7 763.8l1.4 .4l1.3-.3l1.3-1l.7-1.3l.2-2.6l-.9-1.9l-1.3-1l-2.7 0l-1.5 1.5l-.6 2.7l1 2.6zM62.2 757.7l5.3 .7l2.7-.4l3.9-1.6l5.3-4.1l5.3-6.6l2.7-1.5l2.6 0l11.9 1.7l6.6-.4l6.6-2l4-2.4l2.6-2.2l4.3-5l4-6.7l2.9-6.6l1.4-6.6l-.1-6.6l-1.3-5.3l-2.5-5.2l-3.4-4.7l-2.6-1.7l-4-1.3l-5.3-.5l-5.3 .4l-5.3 1.5l-3.9 1.9l-4 2.7l-3.4 3l-4.4 5.3l-3.7 6.6l-2.5 6.6l-2.8 11.9l-1.7 2.6l-2.7 .9l-7.9 .3l-4 .8l-3.9 2.1l-3.5 3.8l-1.7 5.3l.4 5.3l1.1 2.6l2 2.7l4.1 2.6zM244.7 729.9l8-.4l6.6-2.2l6-4l4.1-5.3l2.5-6.6l.2-6.6l-1.6-5.3l-3.8-5.3l-4.8-3.6l-5.3-2.4l-6.6-1.4l-6.6-.2l-7.9 1.3l-6.6 2l-12.7 5.6l-3.7 2.7l-.7 1.3l0 2.6l2.9 11.9l1.6 4l3.3 4.5l4 3.1l3.9 1.7l6.6 1.4l10.2 1.2zM132.3 681.3l1.3 .6l2.7-.7l4.5-5.5l2.1-1.3l15.9-2.7l5.3-1.9l3.2-2l2.7-2.6l1.7-4l-.2-4l-2.1-3.9l-1.2-1.4l-29.5 0l-2.2 2.7l-1.7 4l-.5 3.9l.1 7.9l-2.7 6.6l-.2 2.7l.5 1.3z"/><path id="h33" d="M66.2 825.8l.7 .5l3.8 0l1.5-1.3l.4-1.3l-.5-1.3l-1.9-1.4l-2.8 0l-1.8 1.4l-.5 1.3l.3 1.3zM142.9 825.4l3.9 .9l56.8 0l.4-5.3l-1.6-6.6l-4.1-7.9l-6.5-9.1l-6.6-6.7l-6.6-4.3l-6.6-2.6l-7.9-1.5l-8-.1l-6.6 1.2l-4 1.7l-2.6 1.6l-2.7 2.3l-2.4 3l-3.2 6.6l-1.4 7.9l.9 7.9l1.4 4l1.7 2.6l1.7 1.9l3.2 2.1zM275.1 782.8l4-1.2l1.8-1.5l2.2-2.9l0-23.3l-2.2-2.9l-1.8-1.5l-4-1.2l-3.9 1.2l-1.9 1.5l-2 2.7l-2.1 5.3l-.8 6.6l.8 6.6l2 5l1.3 2l2.4 2.2l3.4 1.3zM63.5 755.3l2.7 .7l4-.2l2.6-1l3.6-2.5l2.3-2.6l1.9-4l.5-3.9l-1-2.7l-1.6-1.3l-3.1-1.3l-5.2-1l-5.3 .7l-4 2.2l-2.6 3.7l-.8 2.3l-.1 2.7l.6 2.6l1.5 2.6l3.3 2.7zM96.6 743.1l5.3 .9l4-.1l5.3-1l3.9-1.6l4-2.6l2.6-2.4l3.1-3.8l3.3-5.3l2.4-5.2l1.2-4l.6-5.3l-.2-3.9l-1.3-5.3l-1.8-4l-3.2-4l-2.7-2.1l-4-1.6l-5.3-.7l-5.3 .6l-5.3 1.8l-3.9 2.3l-4.5 3.7l-3.5 4l-3.3 5.3l-2.7 6.6l-1.4 6.6l-.4 6.6l.6 6.6l1.4 2.6l1.7 1.3l4.1 2.2l5.2 1.8zM235.5 727.5l9.2 .9l8-1l3.9-1.4l4-2.1l4.9-4.6l1.8-2.6l1.8-4l.6-2.6l.2-4l-.8-4l-1.2-2.6l-1.8-2.6l-2.6-2.7l-4.2-2.7l-5.3-2.1l-5.3-.9l-6.6 0l-6.6 1.2l-6.6 2.3l-6.8 3.5l-3.4 2.7l-2.4 3.9l-.4 4l1 6.6l2.1 5.3l3.1 4l2.8 2l4 1.9l5.3 1.3zM141.6 670.7l5.3 .7l6.6-.1l5.3-1l3.9-1.5l4-2.7l2.4-3.6l.6-2.6l-1-4l-3.4-4l-23.7 0l-3.6 4l-1 2.7l-.3 2.6l.5 4l1.1 2.6l.9 1.3l1.9 1.3z"/><path id="h34" d="M154.8 825.3l2.6 1l43.8 0l.7-3.9l-.2-4l-2.1-6.6l-4.5-7.9l-5.9-7.5l-5.3-4.9l-6.6-4l-6.6-2.3l-8-1.2l-6.6 .3l-3.9 .8l-4 1.4l-4 2.4l-2.6 2.4l-2.6 3.3l-1.9 4l-1.1 3.9l-.5 4l.2 4l.9 3.9l1.2 2.7l2 2.6l4.4 2.9l9.7 2.4zM272.5 775.2l2.6 .9l2.7-.9l2.5-3l1.2-4l.2-4l-.9-3.9l-1.7-3.1l-2.6-2l-2.7 0l-1.8 1.1l-2 2.7l-.9 2.6l-.5 4l.5 3.9l.9 2.7l2.1 2.6zM67.5 753.7l2.7-.3l2.7-1.1l2.9-2.6l1.3-2.6l.3-2.7l-.6-2.1l-1.5-1.8l-2.5-1.4l-4-.7l-3.4 .7l-3.2 2.3l-1.3 2.2l-.5 3.5l.8 2.6l2.4 2.6l3.8 1.4zM100.6 742l3.9 .3l4-.5l4-1.2l3.9-2.1l4-3.2l2.7-2.9l3.3-5.2l1.9-3.9l1.6-5.3l.6-4l-.1-3.9l-.8-4l-1.6-4l-1.6-2.6l-2.6-2.6l-3.4-2.2l-4-1.2l-5.2-.2l-5.3 1.2l-4 1.8l-4 2.7l-3.9 3.9l-3.3 4.5l-2 4l-1.9 5.3l-.9 5.3l0 5.2l1.1 5.3l1.7 3.1l2.6 2.7l3.8 2.2l4.3 1.3zM235.5 726.2l9.2 .8l6.6-.9l6.7-2.8l5.2-4.3l1.8-2.3l2-4l.8-3.9l0-2.7l-1.4-5.3l-1.7-2.6l-2.5-2.7l-4.2-2.8l-5.3-1.9l-5.3-.8l-5.3 .1l-5.3 .9l-6.6 2.3l-5.3 2.9l-3.8 3.3l-2.2 4l-.5 3.9l.6 5.3l1.5 4l2.9 3.9l2.8 2.2l4 2l4.2 1.1zM145.5 669.4l4 .6l5.3-.2l4-.9l3.9-1.7l2.6-2l1.8-2.7l.5-3.9l-.9-2.7l-2.3-2.6l-1.9-1.4l-18.3 .1l-2.6 2.1l-1.5 1.8l-1.1 2.7l-.3 2.6l.5 2.6l1.4 2.7l1.4 1.3l2.7 1.3z"/><path id="h35" d="M160.1 825.6l1.2 .7l37.6 0l1.1-5.3l-.6-5.2l-2.6-6.7l-4.1-6.6l-5.7-6.6l-5.8-4.5l-6.6-3.4l-6.6-1.7l-6.6-.5l-6.6 .8l-4 1.3l-3.9 2l-2.7 2.1l-2.4 2.6l-1.6 2.7l-1.6 3.9l-.8 4l.1 3.9l1.5 5.3l1.8 2.7l1.7 1.5l2.6 1.5l8 2.5l5.4 2.4zM66.2 750.3l1.3 .5l2.7-.2l2.6-1.7l1-1.8l.2-1.4l-1.2-2.7l-2.3-1.2l-1.7-.2l-1.3 .2l-2.4 1.3l-.9 1.3l-.4 2.7l1.5 2.6zM101.9 740.5l4 0l3.9-.7l4-1.5l2.6-1.6l3.4-2.8l3.3-3.9l2.4-4.1l1.8-3.9l1.6-8l-.2-3.9l-.9-4l-1.9-4l-2.1-2.6l-3.4-2.6l-2.6-1.1l-4-.8l-4 .2l-3.9 1l-5.3 2.8l-3.9 3.1l-2.7 3.2l-3 4.8l-1.7 3.9l-1.4 5.3l-.3 5.3l.5 4l1.4 3.9l1.8 2.7l3.1 2.6l3.5 1.7l4 1zM235.5 724.9l7.9 .8l6.6-.8l6.6-2.6l5.2-4.3l3.3-5.3l1-5.3l-1.1-5.3l-1.5-2.6l-2.3-2.6l-3.7-2.7l-4.8-1.9l-4-.8l-5.3-.2l-5.3 .8l-5.3 1.6l-5.3 2.8l-3.7 3l-1.9 2.6l-1.3 4l0 5.3l1.2 4l1.8 2.9l2.6 2.6l4 2.4l4 1.3zM146.9 668l3.9 .7l4-.1l4-1l2.6-1.2l3-2.6l1.3-2.6l.1-2.6l-1.1-2.7l-2.8-2.6l-2.7-1.4l-11.5 0l-2.7 1.4l-2.1 1.7l-1.5 2.2l-.8 4l1.7 4l1.9 1.6l2 1z"/><path id="h36" d="M162.7 825.4l1.5 .9l32.5 0l1.4-3.9l0-5.3l-1.5-5.3l-2.7-5.3l-3.7-5.3l-3.7-4l-5.3-4.3l-5.2-2.8l-5.3-1.8l-5.3-.8l-5.3 .1l-5.3 1l-4 1.6l-3.9 2.5l-2.7 2.6l-2.1 3.3l-1.5 3.9l-.5 4l.2 2.6l.8 2.7l1.8 3l2.8 2.3l9.1 3.8l7.2 4.1zM99.3 738.2l3.9 .8l4-.1l6.6-2.3l4-2.7l2.6-2.7l4.3-6.6l1.6-4l.9-3.9l.2-4l-.5-3.9l-1.4-4l-1.7-2.7l-2.1-2.1l-2.6-1.7l-2.7-1.1l-3.9-.5l-4 .4l-4 1.4l-3.9 2.3l-2.7 2.2l-2.8 3.1l-2.5 4l-1.8 3.9l-1.3 5.3l-.3 4l.5 3.9l1.3 4l1.8 2.7l2.5 2.3l3 1.6zM234.1 723.3l6.7 1.2l6.6-.3l6.6-2.1l5.3-3.6l3.4-4.5l1.6-5.2l-.6-5.3l-1.2-2.7l-1.9-2.4l-2.6-2.2l-4-2.1l-4-1.1l-5.3-.5l-5.3 .6l-5.3 1.5l-4.4 2.3l-3.5 2.6l-2.2 2.6l-1.6 4l-.2 4l.8 3.9l1.4 2.7l2.2 2.6l3.6 2.5l3.8 1.5zM148.2 666.8l2.6 .6l4-.1l3.3-.8l2.7-1.3l1.9-1.9l1.2-2.1l.1-2.6l-1.4-2.7l-3.7-2.6l-4.1-1l-5.3 .5l-3.8 1.8l-2.4 2.6l-.6 1.4l-.2 2.6l1.7 3.3l3 2z"/><path id="h37" d="M165.4 825.5l1.4 .8l27.7 0l1.8-3.9l.3-4l-1-5.3l-2.3-5.3l-4.1-6l-5.3-5.4l-5.3-3.6l-5.3-2.3l-5.3-1.3l-5.3-.2l-3.9 .5l-4 1.2l-4 1.9l-2.6 2l-2.5 2.7l-1.6 2.6l-1.2 3.8l-.2 2.8l.9 4l1.7 2.6l1.5 1.3l9.3 5.2l8.5 5.4zM100.6 736.9l2.6 .6l4-.1l4-1.1l2.6-1.2l3.5-2.6l2.6-2.6l4.1-6.6l1.3-4l.7-3.9l-.6-6.6l-2.6-5.3l-2.4-2.4l-2.6-1.6l-2.7-.9l-3.9-.3l-4 .7l-2.7 1l-3.5 2.1l-3 2.7l-2.7 3.3l-1.9 3.3l-1.6 4l-.9 3.9l-.2 4l.6 3.9l1 2.7l1.7 2.7l2.6 2.4l2.7 1.5zM240.8 723.4l6.6-.4l5.3-1.7l5.1-3.3l3.2-4l1.8-5.2l0-2.7l-.7-2.6l-2.4-4l-4.4-3.3l-4-1.6l-3.9-.8l-4 0l-5.3 .8l-4 1.4l-4 2.2l-3.1 2.6l-1.8 2.7l-1.1 2.6l-.3 4l.9 3.9l1.5 2.7l2.6 2.6l2.7 1.7l4 1.5l4.3 .8zM148.2 665.2l5.3 .9l2.6-.4l2.7-1l2.5-2.2l.7-1.3l.1-2.6l-.6-1.4l-2.7-2.4l-2.7-.9l-3.9-.3l-4 1.2l-2.9 2.4l-.9 2.7l.6 2.6l1.1 1.3l1.9 1.4z"/><path id="h38" d="M168 825.6l1.3 .7l22.9 0l1.8-2.6l.8-2.7l.3-2.6l-.5-4l-2-5.3l-3.2-5.2l-4.2-4.8l-4-3.2l-5.2-3l-5.3-1.8l-5.3-.6l-5.3 .5l-6.3 2.3l-5 4l-1.8 2.6l-1.1 2.6l-.4 2.7l.3 2.6l1.3 2.7l2.5 2.6l17.4 11.9zM100.6 735.3l5.3 .8l3.9-.7l2.7-1.1l5.3-3.9l4.2-5.8l2.3-6.6l.2-6.6l-1.2-4l-1.5-2.6l-4-3.5l-2.7-1.1l-2.6-.4l-2.7 .1l-3.9 1.1l-4 2.1l-2.6 2.3l-4.5 6l-1.7 4l-.8 3.9l.2 6.6l.9 2.7l1.9 3l2.4 2.3l2.5 1.3zM239.4 722.2l6.6-.1l5.3-1.5l4.5-2.6l3.5-3.8l1.8-4.1l.1-4l-1.4-4l-3.7-3.9l-3.4-1.9l-2.7-.8l-4-.6l-3.9 .1l-4 .8l-4 1.5l-3.6 2.2l-2.7 2.6l-1.6 2.7l-.8 2.6l.1 4l.8 2.6l1.7 2.7l3.1 2.6l3 1.6l4.1 1.1zM149.5 664l4 .7l3.9-1.1l2.5-2.4l.1-2.6l-1.2-1.7l-2.7-1.5l-3.9-.3l-2.7 .8l-1.8 1.3l-1.2 2.7l.9 2.6l1.8 1.3z"/><path id="h39" d="M170.7 825.7l1.3 .6l17.7 0l2.1-2.3l1.3-3l.4-3.9l-.6-4l-2.3-5.3l-2.6-3.9l-4.1-4.5l-4-3l-3.9-2.2l-5.3-1.7l-5.3-.6l-5.3 .8l-5.3 2.4l-3.9 3.5l-2 3.9l-.2 4l1.1 2.6l3.5 4l10.1 7.9l6 4zM101.9 734.1l5.3 .4l5.3-1.7l5.3-4.2l3.5-5.3l2-6.6l-.2-5.5l-2.2-5.1l-1.8-2l-2.7-1.8l-2.6-.8l-2.6-.2l-4 .6l-2.7 1.1l-5.2 4.1l-3.8 5.6l-1.9 6.6l-.1 4l.5 2.6l1.1 2.7l1.5 2.2l2 1.7l2.5 1.4zM238.1 720.8l5.3 .5l5.3-.9l4-1.8l4.1-3.2l2.4-4l.7-4l-1-3.9l-3.2-4l-3-1.9l-2.7-.9l-4-.7l-3.9 .1l-7.1 2.1l-2.3 1.3l-3.1 2.6l-1.8 2.7l-.8 2.6l-.2 2.7l.5 2.6l1.4 2.7l2.6 2.6l2.8 1.6l3.1 1zM152.2 662.7l2.6-.1l1.3-.6l1-.8l.5-1.3l-.4-1.3l-2.4-1.6l-2.6 0l-1.4 .5l-1.2 1.1l-.5 1.3l.4 1.3l1.9 1.3z"/><path id="h40" d="M173.3 825.6l2.2 .7l10.8 0l2.3-1.3l2.2-2.6l1.2-4l-.2-4l-1.2-3.9l-2.1-4l-3.3-4.2l-4-3.6l-3.9-2.5l-4-1.7l-5.3-1.1l-3.9 .1l-4.3 1.1l-4.4 2.7l-2.3 2.6l-1.5 4l.7 3.9l2.7 4l5.5 5.3l6.2 4.8l5.4 3.1zM101.9 732.6l2.6 .6l2.7-.1l5.3-1.7l3.9-3.1l3.6-5l2-6.6l-.3-5.2l-1.7-4.1l-3.6-3.4l-2.6-1l-2.6-.3l-5.3 1.2l-5.3 3.6l-3.7 5.2l-2 6.6l.3 5.3l.9 2.6l1.8 2.7l3.9 2.6zM236.8 719.4l5.3 .8l5.3-.6l4.1-1.6l3.5-2.6l2.7-4l.8-4l-1.1-3.9l-2.1-2.6l-2.6-1.9l-2.7-1.1l-6.6-.8l-6.6 1.5l-2.7 1.4l-2.7 2.1l-2.6 4l-.5 2.7l.2 2.6l1 2.6l2 2.5l2.1 1.5l3 1.3z"/><path id="h41" d="M176 825.2l3.9 .6l4-.3l2.6-1.2l2.2-1.9l1.4-2.7l.5-3.9l-.8-4l-1.9-4l-2.7-3.8l-2.6-2.8l-4-3l-4-1.9l-3.9-1.2l-4-.3l-4 .6l-2.6 1.1l-2.9 2.1l-2.5 3.9l-.3 2.7l1.3 3.9l4.1 5.3l5.6 5.1l5.3 3.5l4.8 2zM103.2 731.4l4 .3l2.6-.6l2.7-1.2l3.9-3.4l2.9-4.5l1.4-5.3l-.4-5.3l-2.1-4l-3.1-2.3l-3.9-.9l-2.7 .2l-2.6 .9l-4.8 3.5l-3.5 5.2l-1.4 5.3l.4 5.3l2.2 4l1.8 1.6l2.1 1zM236.8 718.2l4 .8l5.2-.2l4-1.4l3.2-2l2.3-2.7l1.5-3.9l-.6-4l-1.7-2.7l-2-1.7l-2.7-1.3l-5.3-.9l-6.6 1.1l-4.8 2.8l-2.9 4l-.7 2.7l.3 2.6l2.2 4l4.2 2.6z"/><path id="h42" d="M176 823.8l3.9 .6l2.7-.2l2.6-1l2.4-2.2l1.2-2.6l.2-4l-1.1-3.9l-1.3-2.7l-2.7-3.6l-2.7-2.6l-2.6-2l-4-2l-6.6-1.3l-3.9 .5l-2.7 1.1l-2.5 2l-1.6 2.6l-.4 2.7l1.1 3.9l2.6 4l5.4 5.3l4.7 3.2l4.8 2.1zM104.5 730.1l4-.1l4-1.7l3.8-3.7l2.2-4l1-5.2l-.7-4l-2.4-3.5l-2.6-1.7l-4-.5l-3.9 1.2l-4 2.9l-2.9 4.2l-1.5 5.3l.4 4.6l1.8 3.3l2.2 1.9l1.8 .8zM242.1 718l3.9-.4l4-1.5l2.8-2.1l1.9-2.6l.8-4l-.7-2.6l-2-2.7l-2.8-1.6l-5.3-1.2l-5.3 .8l-4.1 2l-1.5 1.4l-1.9 2.6l-.7 4l1.7 3.9l3.9 2.9l5.1 1.1z"/><path id="h43" d="M99.3 826.3l21 0l-.2-6.6l2.4-27.7l1.7-8l2.8-6.1l4-5.5l4-2.8l3.9-.7l6.6 .6l34.4 6.8l5.3 1.5l2.7 1.5l3.1 3.4l6.5 11.9l4.9 7.5l5.3 6.5l10.8 11.1l3 4l1.3 2.6l60.3 0l0-10.6l-4 1.2l-5.3 .4l-5.3-1.1l-3.9-1.8l-4-2.8l-3.4-3.8l-2.5-3.9l-2.4-5.3l-3.7-10.6l-1.3-6.6l.2-5.3l2.7-17.1l.9-10.6l-.5-5.3l-2.2-4l-5-3.1l-4-1.3l-3.9-.7l-6.6 .2l-11.9 2.3l-2.7-.1l-2.6-.9l-2.7-2.1l-1.8-2.2l-3.9-9.2l-2.2-3.3l-4-3.1l-11.9-5.4l-2.6-2.3l-2.7-4.4l-1-5.3l.7-5.3l2.5-5.3l3.1-3.4l2.7-1.6l3.9-1.3l6.6-.9l14-.7l4.7-1.3l1.2-1.4l-.6-1.3l-7.5-6.6l-1.9-2.6l-1.3-2.7l-.5-2.6l.2-4l.9-2.6l1.6-2.7l-25.8 0l1.5 4l.4 5.3l-1 4l-3.1 4.4l-2.9 2.2l-3.1 1.3l-19.3 5.3l-2.8 1.3l-3.1 2.6l-3 5.3l-2.1 6.6l0 4l1.3 11.9l-.3 3.9l-.7 2.7l-2.2 3.9l-8 11.4l-8 14.6l-3.9 4.3l-2.7 1.2l-5.3 .9l-18.5-.2l-5.3 .6l-5.3 2.4l-11.9 8.1l-11.9 6.6l-6.6 2.2l-5.3-.1l0 32.8l6.6-1.5l8 .1l11.9 1.8l9.2 2.6l4 2.3l3.5 3.7l3.4 6.6l1.3 5.3zM198.4 773.5l-2.4-1.3l-1.3-1.4l-2.4-5.2l-.7-8l1.3-7.9l2-4l3.5-3.4l5.3-2.1l5.3-.2l2.7 1.3l1.3 1.3l2 3.1l1.7 4l1.9 9.3l-.4 6.6l-2.3 3.9l-2.9 2.2l-2.7 1.2l-6.6 1.3l-5.3-.7zM50.7 714l4.9-2.5l8.4-2.7l3.5-1.7l4-3.3l9-10.9l6-5.3l11.4-7.4l14.6-7.1l2.6-1.8l2.1-2.2l1.9-3.2l2.8-10l1.6-4l-73.2 0l0 62.3zM283.1 690.3l0-38.4l-37.3 0l2.2 4l.7 4l-.4 3.9l-2 6.6l.3 1.4l2.1 1.4l13.2 3l8 3.1l7.9 5.2l5.3 5.8z"/><path id="h44" d="M108.5 817.2l2.7-.6l2.6-2l2.4-4.1l1.1-4l.4-7.9l-1.5-13.2l.5-4l2.6-10.6l.2-3.9l-.4-2.7l-1.3-2.6l-1.2-1.3l-1.8-1.3l-3.6-1.6l-4.9-1.1l-5.7-.6l-5.3 0l-4 .7l-3.9 1.6l-5.8 3.6l-8.8 6.6l-5.7 5.3l-4 5.3l-1.8 3.9l-.9 4l.4 4l1 2.6l1.7 2.2l2.3 1.8l3 1.5l8 2.3l13.2 1.5l3.6 1.3l2.8 2.6l5.5 7.3l2.6 2.2l2.7 1.1zM223.6 814.6l2.6 0l4-.8l5.3-3.1l3.4-4.2l1.9-5.3l0-6.6l-2.9-10.6l-.2-3.9l1.1-2.7l4.6-7.1l2-4.7l1.8-8l.5-7.9l-.9-5.3l-2.1-3.9l-3.5-2.7l-4.4-1.4l-5.3 0l-3.9 1.4l-3.3 2.7l-1.6 2.6l-.8 2.6l-.4 4l1.9 18.5l-.3 2.6l-.7 1.4l-1.9 1.3l-2.2 .7l-17.9 4.6l-2.2 1.3l-1.4 2.6l.1 4l1.6 5.3l2.6 5.3l4 5.5l3.9 4.2l5.3 4.1l4 2.1l4.4 1.2zM165.4 771l6.6 .7l5.3 .1l5.2-1l2.2-1.3l1.5-2.6l.5-5.3l-.6-6.6l-1.6-5.3l-3-5.3l-4.4-5.3l-6.4-5.9l-6.6-4.8l-4-2.2l-4-1.3l-5.3-.1l-3.9 1.1l-4 2.3l-2.7 2.3l-2.6 3.3l-2.3 4l-1.8 5.3l-.6 4l.3 3.9l.8 2.7l1.5 2.6l2.4 2.7l3.1 2.6l4.2 2.6l9.2 4l10.2 2.6zM194.5 730.5l1.3 .1l2.1-.7l1.3-1.3l.6-1.4l-.2-2.6l-1.2-1.7l-1.3-.9l-2.6-.3l-1.4 .5l-1.9 2.4l0 2.6l2 2.7zM160.1 714.5l4 .7l3.9-1.2l3-2.6l2-4l2.1-21.1l-.9-4l-1-1.3l-2.5-1.5l-5.3-.4l-3.5 .6l-3.6 1.3l-3.5 2.7l-1.8 2.6l-1.1 2.6l-.8 6.6l1.3 8l3.1 6.6l1.9 2.4l2 1.5zM63.5 679.7l8 .8l7.9-1l6.6-2.4l6.3-4l3.7-4l1.5-2.6l.7-2.7l.2-2.6l-.6-2.6l-1.2-2.7l-1.9-2.6l-1.3-1.4l-43.1 0l0 21.9l6.6 3.9l6.4 2z"/><path id="h45" d="M218.3 809.3l3.9 .4l4-.7l4-2.2l2.6-2.8l1.4-2.8l.7-3.9l-.3-4l-1.4-4l-1.7-2.9l-2.6-3l-2.8-2l-3.9-1.6l-3.9-.7l-4-.1l-5.3 .9l-3.9 1.4l-3.4 2.7l-1.1 2.7l.1 4l1.3 3.9l3.1 5.2l3.9 4.4l4 2.9l4.7 2zM107.2 808.4l2.6-.4l1.4-1.1l.9-1.7l.6-2.7l-.2-4.1l-3-7.7l-.4-2.7l.4-4l2.6-10.5l.3-4l-.4-2.6l-2.2-4l-2.6-2l-2.7-1.1l-6.6-1.2l-6.6 .8l-3.9 1.6l-5.3 3.2l-4.9 4l-3.8 4l-2.8 3.9l-1.8 4l-.8 3.9l.4 4l1.1 2.7l2 2.3l2.2 1.6l3.1 1.4l6.6 1l10.6-.8l3.9 .6l2.1 1.8l3.5 6.6l2.5 2.6zM232.8 770l1.3 .2l2.7-.4l3.7-2.9l2.8-5.3l1.3-5.3l.2-6.6l-1.4-5.3l-2.6-3.5l-4-1.9l-4 .1l-3 1.4l-2.5 2.6l-1.9 5.3l-.2 6.6l1.3 6.6l2.4 5l3 2.9zM166.7 768.2l5.3 0l4-1l2.4-1.6l1.5-2.2l.8-3.1l-.2-4l-1.2-4l-2.8-5.2l-3.2-4l-4-3.9l-3.9-3l-5.3-2.9l-5.3-1.8l-4-.4l-3.9 .6l-2.7 1.2l-3.7 3.6l-2.4 5.3l-.3 2.6l.4 4l2.3 5.3l4.5 5.3l5.8 4.2l8 3.4l7.5 1.6zM161.4 703.6l2.7 .5l2.6-1.6l1.3-2.1l1.1-3.5l.4-4l-.4-4l-1.4-2.6l-2.3-1.4l-2.7 0l-2.6 1.4l-2 2.6l-.8 2.7l-.2 3.9l.5 2.7l1.2 2.7l2.4 2.6zM66.2 673.2l5.3 .6l5.3-.6l4.2-1.4l3.7-2.4l2.5-2.9l1-2.7l-.3-3.9l-1.5-2.7l-4.3-3.5l-4.8-1.8l-11.6 0l-3.9 1.4l-3.5 2.2l-1.8 1.7l-1.5 2.7l-.4 2.6l.4 2.7l1.5 2.6l3 2.6l6.2 2.7z"/><path id="h46" d="M215.6 805.4l5.3 .7l2.7-.5l2.6-1.3l1.9-1.8l1.7-2.6l.6-2.6l-.1-2.7l-.7-2.6l-1.4-2.7l-3.9-3.9l-3.4-1.8l-2.6-.8l-5.3-.3l-4 .9l-3.2 2l-1.7 2.6l-.4 2.7l1.4 5l2.6 4.1l4 3.6l3.4 1.8zM82.1 792.2l5.3 0l6.6-1.6l5.3-2.4l2.9-2.8l3.6-6.6l1.4-6.6l-.5-4l-1.5-2.6l-1.4-1.4l-2.3-1.3l-3.6-.9l-2.6-.1l-4 .7l-6.6 3.1l-4 3.1l-3.1 3.4l-1.9 2.6l-1.8 4l-.6 5.2l.7 2.7l1.9 2.6l2.2 1.6l2.8 1.1zM161.4 764.4l4 .5l3.9-.2l2.7-.9l2.5-2.2l1-2.6l.1-2.7l-.5-2.6l-1.7-4l-2.7-3.9l-2.7-2.8l-3.9-3.1l-4-2.3l-6.6-1.9l-4 .1l-2.6 1l-2.9 2.3l-1.7 4l0 4l1.3 3.9l2.6 4l4.1 4l4.5 2.9l6.1 2.3zM234.1 764.4l2.7-.2l2.6-2.3l1.6-2.9l1.1-5.3l-.1-4l-1.3-4l-2.6-2.8l-2.6-.8l-2.7 .5l-2.2 1.8l-1.5 2.7l-.9 3.9l.1 4l1 4l2.2 3.8l2.2 1.4zM67.5 666.6l4 .7l4.1-.8l1.9-1.3l1-1.4l0-2.6l-1.7-2l-2.7-1.2l-3.9-.2l-2.9 .8l-1.9 1.3l-1.2 2.6l1.2 2.7l1.9 1.3z"/><path id="h47" d="M217 802.6l3.9-.2l2.6-1.2l1.4-1.3l1.2-2.6l-.2-4l-2.6-4l-3.7-2.4l-4-1l-3.9 .4l-2.7 1.4l-1.3 1.6l-.6 2.7l.5 2.6l1.3 2.7l2.5 2.6l2.9 1.9l2.5 .7zM82.1 787.1l3.9 .8l4-.6l4.7-1.9l3.4-2.7l2.8-3.9l1.3-4l-.1-4l-1.5-2.8l-1.4-1.1l-2.6-1l-4-.1l-5.2 1.9l-4.3 3.1l-3.1 4l-1.3 2.6l-.6 2.7l.7 3.9l2.5 2.7zM158.8 760.3l3.9 .9l2.7 0l2.6-.7l1.3-1l1.5-3.2l-.1-2.6l-1-2.7l-3.8-5.3l-4.5-3.4l-5.3-2.1l-2.6-.3l-3.1 .6l-2.2 1.5l-1.3 2.4l-.2 2.7l.6 2.6l2.2 3.9l2.6 2.7l3.8 2.7l2.8 1.3zM234.1 758.2l1.4 .3l1.3-.6l1.3-1.8l.6-2.4l-.6-4.6l-1.3-1.7l-1.3-.5l-1.4 .3l-1.3 1.2l-.9 2.6l.1 4l1.5 2.6z"/><path id="h48" d="M214.3 797.5l2.7 1l1.3-.1l2-1.1l.7-1.4l.1-1.3l-1.4-2.6l-2.7-1.6l-2.7-.1l-1.3 .6l-1 1.1l-.4 1.3l1 2.6l1.3 1.4zM86 782l2.7 .3l2.6-.7l3.6-2.8l1.6-4l-.1-1.3l-1.1-1.8l-1.3-.8l-2.7-.1l-2.6 1l-2.3 1.7l-1.7 2.3l-.6 1.6l.1 2.7l.9 1.3zM160.1 756.4l2.6 0l2.1-1.4l.3-2.7l-1.2-2.6l-2.5-2.6l-2.6-1.5l-2.7-.6l-2.6 .7l-1.1 1.4l-.2 1.3l.8 2.6l3.1 3.5l3.7 1.8z"/></defs><g clip-path="url(#c2)"><rect x="50.3" y="651.9" width="232.8" height="174.4" fill="#fff"/><use href="#h30" x="-0.55" y="-0.55" fill="#fff" fill-opacity="0.80"/><use href="#h30" x="0.55" y="0.55" fill="#600000" fill-opacity="0.50"/><use href="#h30" fill="#ffc8c8"/><use href="#h31" x="-0.55" y="-0.55" fill="#fff" fill-opacity="0.80"/><use href="#h31" x="0.55" y="0.55" fill="#600000" fill-opacity="0.50"/><use href="#h31" fill="#ff9090"/><use href="#h32" x="-0.55" y="-0.55" fill="#fff" fill-opacity="0.80"/><use href="#h32" x="0.55" y="0.55" fill="#600000" fill-opacity="0.50"/><use href="#h32" fill="#ff6060"/><use href="#h33" x="-0.55" y="-0.55" fill="#fff" fill-opacity="0.80"/><use href="#h33" x="0.55" y="0.55" fill="#600000" fill-opacity="0.50"/><use href="#h33" fill="#ff2a2a"/><use href="#h34" x="-0.55" y="-0.55" fill="#fff" fill-opacity="0.80"/><use href="#h34" x="0.55" y="0.55" fill="#600000" fill-opacity="0.50"/><use href="#h34" fill="#ff0000"/><use href="#h35" x="-0.55" y="-0.55" fill="#fff" fill-opacity="0.80"/><use href="#h35" x="0.55" y="0.55" fill="#600000" fill-opacity="0.50"/><use href="#h35" fill="#cc0000"/><use href="#h36" x="-0.55" y="-0.55" fill="#fff" fill-opacity="0.80"/><use href="#h36" x="0.55" y="0.55" fill="#600000" fill-opacity="0.50"/><use href="#h36" fill="#b40000"/><use href="#h37" x="-0.55" y="-0.55" fill="#fff" fill-opacity="0.80"/><use href="#h37" x="0.55" y="0.55" fill="#600000" fill-opacity="0.50"/><use href="#h37" fill="#9d0000"/><use href="#h38" x="-0.55" y="-0.55" fill="#fff" fill-opacity="0.80"/><use href="#h38" x="0.55" y="0.55" fill="#600000" fill-opacity="0.50"/><use href="#h38" fill="#800000"/><use href="#h39" x="-0.55" y="-0.55" fill="#fff" fill-opacity="0.80"/><use href="#h39" x="0.55" y="0.55" fill="#600000" fill-opacity="0.50"/><use href="#h39" fill="#7c0000"/><use href="#h40" x="-0.55" y="-0.55" fill="#fff" fill-opacity="0.80"/><use href="#h40" x="0.55" y="0.55" fill="#600000" fill-opacity="0.50"/><use href="#h40" fill="#7c0000"/><use href="#h41" x="-0.55" y="-0.55" fill="#fff" fill-opacity="0.80"/><use href="#h41" x="0.55" y="0.55" fill="#600000" fill-opacity="0.50"/><use href="#h41" fill="#7c0000"/><use href="#h42" x="-0.55" y="-0.55" fill="#fff" fill-opacity="0.80"/><use href="#h42" x="0.55" y="0.55" fill="#600000" fill-opacity="0.50"/><use href="#h42" fill="#7c0000"/><use href="#h43" x="0.55" y="0.55" fill="#fff" fill-opacity="0.80"/><use href="#h43" x="-0.55" y="-0.55" fill="#000050" fill-opacity="0.50"/><use href="#h43" fill="#c8c8ff"/><use href="#h44" x="0.55" y="0.55" fill="#fff" fill-opacity="0.80"/><use href="#h44" x="-0.55" y="-0.55" fill="#000050" fill-opacity="0.50"/><use href="#h44" fill="#9a9aff"/><use href="#h45" x="0.55" y="0.55" fill="#fff" fill-opacity="0.80"/><use href="#h45" x="-0.55" y="-0.55" fill="#000050" fill-opacity="0.50"/><use href="#h45" fill="#6060ff"/><use href="#h46" x="0.55" y="0.55" fill="#fff" fill-opacity="0.80"/><use href="#h46" x="-0.55" y="-0.55" fill="#000050" fill-opacity="0.50"/><use href="#h46" fill="#2a2aff"/><use href="#h47" x="0.55" y="0.55" fill="#fff" fill-opacity="0.80"/><use href="#h47" x="-0.55" y="-0.55" fill="#000050" fill-opacity="0.50"/><use href="#h47" fill="#0000ff"/><use href="#h48" x="0.55" y="0.55" fill="#fff" fill-opacity="0.80"/><use href="#h48" x="-0.55" y="-0.55" fill="#000050" fill-opacity="0.50"/><use href="#h48" fill="#0000d8"/></g></g><ellipse cx="108.5" cy="770.8" rx="39.7" ry="39.6" fill="none" stroke="#c83050" stroke-width="0.5" opacity="0.55"/><ellipse cx="224.9" cy="770.8" rx="39.7" ry="39.6" fill="none" stroke="#c83050" stroke-width="0.5" opacity="0.55"/><rect x="54.3" y="653.3" width="224.8" height="2.6" fill="#8090c0" opacity="0.5"/><rect x="54.3" y="585.9" width="224.8" height="3.2" fill="#f0b8c4"/><line x1="54.3" y1="823.7" x2="279.1" y2="823.7" stroke="#f4b0c0" stroke-width="1.6" opacity="0.8" clip-path="url(#c2)"/><rect x="156.1" y="809.1" width="21.2" height="14.5" rx="3" fill="#00ffff" opacity="0.15"/><rect x="158.8" y="826.3" width="15.9" height="6.9" fill="#707070" stroke="#555" stroke-width="0.5"/><path d="M54.3 585.9L54.3 778.8A74.1 74.0 0 0 0 128.3 852.7L205.1 852.7A74.1 74.0 0 0 0 279.1 778.8L279.1 585.9" fill="none" stroke="#606060" stroke-width="1.6"/><text x="23.5" y="496.8" font-size="38.00" text-anchor="start" fill="#1c2128" textLength="64.0" lengthAdjust="spacingAndGlyphs" stroke="#fff" stroke-width="0.55">5v5</text><text x="99.2" y="497.8" font-size="38" fill="#1c2128" textLength="108.5" lengthAdjust="spacingAndGlyphs" stroke="#fff" stroke-width="0.55"><tspan font-size="46">(</tspan>with<tspan font-size="46">)</tspan></text><text x="173.7" y="547.5" font-size="25.50" text-anchor="middle" fill="#000" textLength="216.0" lengthAdjust="spacingAndGlyphs">MIN 5v5 Defence</text><text x="166.7" y="561.2" font-size="8.20" text-anchor="middle" fill="#111">2025-2026, Regular Season</text><text x="166.7" y="570.1" font-size="8.20" text-anchor="middle" fill="#111">Shot Rates, Relative to League Average for the Season</text><text x="166.7" y="579.0" font-size="8.20" text-anchor="middle" fill="#111">Micah Blake McCurdy, @hockeyviz.com</text><line x1="50.8" y1="823.7" x2="54.3" y2="823.7" stroke="#555" stroke-width="0.7"/><text x="49.3" y="826.7" font-size="8.50" text-anchor="end" fill="#111">0</text><line x1="50.8" y1="797.3" x2="54.3" y2="797.3" stroke="#555" stroke-width="0.7"/><text x="49.3" y="800.3" font-size="8.50" text-anchor="end" fill="#111">10</text><line x1="50.8" y1="770.8" x2="54.3" y2="770.8" stroke="#555" stroke-width="0.7"/><text x="49.3" y="773.8" font-size="8.50" text-anchor="end" fill="#111">20</text><line x1="50.8" y1="744.4" x2="54.3" y2="744.4" stroke="#555" stroke-width="0.7"/><text x="49.3" y="747.4" font-size="8.50" text-anchor="end" fill="#111">30</text><line x1="50.8" y1="718.0" x2="54.3" y2="718.0" stroke="#555" stroke-width="0.7"/><text x="49.3" y="721.0" font-size="8.50" text-anchor="end" fill="#111">40</text><line x1="50.8" y1="691.6" x2="54.3" y2="691.6" stroke="#555" stroke-width="0.7"/><text x="49.3" y="694.6" font-size="8.50" text-anchor="end" fill="#111">50</text><line x1="50.8" y1="665.2" x2="54.3" y2="665.2" stroke="#555" stroke-width="0.7"/><text x="49.3" y="668.2" font-size="8.50" text-anchor="end" fill="#111">60</text><line x1="50.8" y1="638.7" x2="54.3" y2="638.7" stroke="#555" stroke-width="0.7"/><text x="49.3" y="641.7" font-size="8.50" text-anchor="end" fill="#111">70</text><line x1="50.8" y1="612.3" x2="54.3" y2="612.3" stroke="#555" stroke-width="0.7"/><text x="49.3" y="615.3" font-size="8.50" text-anchor="end" fill="#111">80</text><line x1="50.8" y1="585.9" x2="54.3" y2="585.9" stroke="#555" stroke-width="0.7"/><text x="49.3" y="588.9" font-size="8.50" text-anchor="end" fill="#111">90</text><line x1="60.9" y1="852.8" x2="60.9" y2="856.3" stroke="#555" stroke-width="0.7"/><text x="60.9" y="865.3" font-size="8.50" text-anchor="middle" fill="#111">40</text><line x1="87.3" y1="852.8" x2="87.3" y2="856.3" stroke="#555" stroke-width="0.7"/><text x="87.3" y="865.3" font-size="8.50" text-anchor="middle" fill="#111">30</text><line x1="113.8" y1="852.8" x2="113.8" y2="856.3" stroke="#555" stroke-width="0.7"/><text x="113.8" y="865.3" font-size="8.50" text-anchor="middle" fill="#111">20</text><line x1="140.2" y1="852.8" x2="140.2" y2="856.3" stroke="#555" stroke-width="0.7"/><text x="140.2" y="865.3" font-size="8.50" text-anchor="middle" fill="#111">10</text><line x1="166.7" y1="852.8" x2="166.7" y2="856.3" stroke="#555" stroke-width="0.7"/><text x="166.7" y="865.3" font-size="8.50" text-anchor="middle" fill="#111">0</text><line x1="193.1" y1="852.8" x2="193.1" y2="856.3" stroke="#555" stroke-width="0.7"/><text x="193.1" y="865.3" font-size="8.50" text-anchor="middle" fill="#111">10</text><line x1="219.6" y1="852.8" x2="219.6" y2="856.3" stroke="#555" stroke-width="0.7"/><text x="219.6" y="865.3" font-size="8.50" text-anchor="middle" fill="#111">20</text><line x1="246.0" y1="852.8" x2="246.0" y2="856.3" stroke="#555" stroke-width="0.7"/><text x="246.0" y="865.3" font-size="8.50" text-anchor="middle" fill="#111">30</text><line x1="272.5" y1="852.8" x2="272.5" y2="856.3" stroke="#555" stroke-width="0.7"/><text x="272.5" y="865.3" font-size="8.50" text-anchor="middle" fill="#111">40</text><text x="166.7" y="874.5" font-size="8.30" text-anchor="middle" fill="#111" textLength="118.0" lengthAdjust="spacingAndGlyphs">Distance from centre of rink (ft)</text><text x="173.7" y="883.0" font-size="4.60" text-anchor="middle" fill="#111" textLength="57.0" lengthAdjust="spacingAndGlyphs">Generated on 2025-11-05</text><text transform="translate(35.3 720.0) rotate(-90)" font-size="8.3" text-anchor="middle" fill="#111" textLength="98" lengthAdjust="spacingAndGlyphs">Distance from goal line (ft)</text><rect x="94.3" y="595.4" width="144.0" height="51.0" rx="3" fill="#fff" stroke="#555" stroke-width="0.8"/><text x="166.7" y="609.9" font-size="13.50" text-anchor="middle" fill="#000" textLength="71.0" lengthAdjust="spacingAndGlyphs">With Jiříček</text><text x="166.7" y="625.1" font-size="13.50" text-anchor="middle" fill="#000" textLength="129.5" lengthAdjust="spacingAndGlyphs">124 minutes, 5.7 xG</text><text x="166.7" y="640.3" font-size="13.50" text-anchor="middle" fill="#000" textLength="135.5" lengthAdjust="spacingAndGlyphs">xGA/60: 2.76 (+10%)</text><path d="M291.3 629.3L296.7 619.9L302.1 629.3V630.3H291.3Z" fill="#7c0000"/><rect x="291.3" y="629.3" width="10.8" height="9.99" fill="#800000" shape-rendering="crispEdges"/><text x="304.3" y="635.3" font-size="6.00" text-anchor="start" fill="#222" textLength="13.2" lengthAdjust="spacingAndGlyphs" font-family="Liberation Mono">+0.9</text><rect x="291.3" y="638.7" width="10.8" height="9.99" fill="#9d0000" shape-rendering="crispEdges"/><text x="304.3" y="644.7" font-size="6.00" text-anchor="start" fill="#222" textLength="13.2" lengthAdjust="spacingAndGlyphs" font-family="Liberation Mono">+0.8</text><rect x="291.3" y="648.1" width="10.8" height="9.99" fill="#b40000" shape-rendering="crispEdges"/><text x="304.3" y="654.1" font-size="6.00" text-anchor="start" fill="#222" textLength="13.2" lengthAdjust="spacingAndGlyphs" font-family="Liberation Mono">+0.7</text><rect x="291.3" y="657.4" width="10.8" height="9.99" fill="#cc0000" shape-rendering="crispEdges"/><text x="304.3" y="663.4" font-size="6.00" text-anchor="start" fill="#222" textLength="13.2" lengthAdjust="spacingAndGlyphs" font-family="Liberation Mono">+0.6</text><rect x="291.3" y="666.8" width="10.8" height="9.99" fill="#ff0000" shape-rendering="crispEdges"/><text x="304.3" y="672.8" font-size="6.00" text-anchor="start" fill="#222" textLength="13.2" lengthAdjust="spacingAndGlyphs" font-family="Liberation Mono">+0.5</text><rect x="291.3" y="676.2" width="10.8" height="9.99" fill="#ff2a2a" shape-rendering="crispEdges"/><text x="304.3" y="682.2" font-size="6.00" text-anchor="start" fill="#222" textLength="13.2" lengthAdjust="spacingAndGlyphs" font-family="Liberation Mono">+0.4</text><rect x="291.3" y="685.6" width="10.8" height="9.99" fill="#ff6060" shape-rendering="crispEdges"/><text x="304.3" y="691.6" font-size="6.00" text-anchor="start" fill="#222" textLength="13.2" lengthAdjust="spacingAndGlyphs" font-family="Liberation Mono">+0.3</text><rect x="291.3" y="695.0" width="10.8" height="9.99" fill="#ff9090" shape-rendering="crispEdges"/><text x="304.3" y="701.0" font-size="6.00" text-anchor="start" fill="#222" textLength="13.2" lengthAdjust="spacingAndGlyphs" font-family="Liberation Mono">+0.2</text><rect x="291.3" y="704.4" width="10.8" height="9.99" fill="#ffc8c8" shape-rendering="crispEdges"/><text x="304.3" y="710.4" font-size="6.00" text-anchor="start" fill="#222" textLength="13.2" lengthAdjust="spacingAndGlyphs" font-family="Liberation Mono">+0.1</text><rect x="291.3" y="713.8" width="10.8" height="9.99" fill="#ffffff" shape-rendering="crispEdges"/><text x="304.3" y="719.8" font-size="6.00" text-anchor="start" fill="#222" textLength="13.2" lengthAdjust="spacingAndGlyphs" font-family="Liberation Mono">+0.0</text><rect x="291.3" y="723.1" width="10.8" height="9.99" fill="#c8c8ff" shape-rendering="crispEdges"/><text x="304.3" y="729.1" font-size="6.00" text-anchor="start" fill="#222" textLength="13.2" lengthAdjust="spacingAndGlyphs" font-family="Liberation Mono">−0.1</text><rect x="291.3" y="732.5" width="10.8" height="9.99" fill="#9a9aff" shape-rendering="crispEdges"/><text x="304.3" y="738.5" font-size="6.00" text-anchor="start" fill="#222" textLength="13.2" lengthAdjust="spacingAndGlyphs" font-family="Liberation Mono">−0.2</text><rect x="291.3" y="741.9" width="10.8" height="9.99" fill="#6060ff" shape-rendering="crispEdges"/><text x="304.3" y="747.9" font-size="6.00" text-anchor="start" fill="#222" textLength="13.2" lengthAdjust="spacingAndGlyphs" font-family="Liberation Mono">−0.3</text><rect x="291.3" y="751.3" width="10.8" height="9.99" fill="#2a2aff" shape-rendering="crispEdges"/><text x="304.3" y="757.3" font-size="6.00" text-anchor="start" fill="#222" textLength="13.2" lengthAdjust="spacingAndGlyphs" font-family="Liberation Mono">−0.4</text><rect x="291.3" y="760.7" width="10.8" height="9.99" fill="#0000ff" shape-rendering="crispEdges"/><text x="304.3" y="766.7" font-size="6.00" text-anchor="start" fill="#222" textLength="13.2" lengthAdjust="spacingAndGlyphs" font-family="Liberation Mono">−0.5</text><rect x="291.3" y="770.1" width="10.8" height="9.99" fill="#0000d8" shape-rendering="crispEdges"/><text x="304.3" y="776.1" font-size="6.00" text-anchor="start" fill="#222" textLength="13.2" lengthAdjust="spacingAndGlyphs" font-family="Liberation Mono">−0.6</text><rect x="291.3" y="779.5" width="10.8" height="9.99" fill="#1800b8" shape-rendering="crispEdges"/><text x="304.3" y="785.5" font-size="6.00" text-anchor="start" fill="#222" textLength="13.2" lengthAdjust="spacingAndGlyphs" font-family="Liberation Mono">−0.7</text><rect x="291.3" y="788.8" width="10.8" height="9.99" fill="#2c0098" shape-rendering="crispEdges"/><text x="304.3" y="794.8" font-size="6.00" text-anchor="start" fill="#222" textLength="13.2" lengthAdjust="spacingAndGlyphs" font-family="Liberation Mono">−0.8</text><rect x="291.3" y="798.2" width="10.8" height="9.99" fill="#3a0080" shape-rendering="crispEdges"/><text x="304.3" y="804.2" font-size="6.00" text-anchor="start" fill="#222" textLength="13.2" lengthAdjust="spacingAndGlyphs" font-family="Liberation Mono">−0.9</text><path d="M291.3 807.6L296.7 817.0L302.1 807.6V807.1H291.3Z" fill="#4a0078"/><path d="M291.3 629.3L296.7 619.9L302.1 629.3L302.1 807.6L296.7 817.0L291.3 807.6Z" fill="none" stroke="#333" stroke-width="0.6"/><text x="304.0" y="583.6" font-size="6.80" text-anchor="middle" fill="#111">Excess</text><text x="304.0" y="591.6" font-size="6.80" text-anchor="middle" fill="#111">weighted</text><text x="304.0" y="599.7" font-size="6.80" text-anchor="middle" fill="#111">shots</text><text x="304.0" y="607.8" font-size="6.80" text-anchor="middle" fill="#111">per hour</text><circle cx="304.0" cy="852.3" r="14.7" fill="#fff" stroke="#222" stroke-width="1.0"/><text x="304.0" y="846.7" font-size="6.50" text-anchor="middle" fill="#111">per</text><text x="304.0" y="854.7" font-size="6.50" text-anchor="middle" fill="#111">100</text><text x="304.0" y="862.7" font-size="6.50" text-anchor="middle" fill="#111">sqft</text><defs><clipPath id="c3"><path d="M482.3 585.9L482.3 778.8A74.1 74.0 0 0 0 556.3 852.7L633.1 852.7A74.1 74.0 0 0 0 707.1 778.8L707.1 585.9Z"/></clipPath><clipPath id="c3r"><rect x="462.5" y="654.6" width="264.5" height="169.1"/></clipPath></defs><rect x="482.3" y="585.9" width="224.8" height="266.8" fill="#fefafb"/><g clip-path="url(#c3r)"><defs><path id="h49" d="M570.9 825.6l1.6 .7l30.5 0l8.9-2.6l5.3-.9l15.9-.2l7.9-.9l6.6-2.3l4.9-3.6l2.4-4l.5-2.7l-.2-2.6l-.9-2.6l-1.6-2.7l-4.1-3.9l-5-3l-11.9-5.4l-5.3-3.6l-3.9-4.2l-9.3-11.7l-4-3.7l-2.6-1.3l-4-.6l-5.3 .1l-6.6 1l-7.9 2.8l-6.6 4.6l-5.5 6.5l-3.2 6.6l-1.4 5.3l-1.1 11.8l-2.2 9.3l-.3 4l.7 2.6l1.5 2.6l2.2 2.2l2.8 1.8zM611.9 760.3l2.6 .1l2.7-.6l5.3-2.8l2.6-2.5l2.7-3.4l4.2-8l2.1-2.6l10.9-6l2.4-2l2-2.6l2-5.3l.1-4l-.6-2.6l-1.1-2.6l-2.2-3.4l-2.6-2.7l-2.7-1.8l-4-1.1l-2.6 .2l-2.6 1.3l-3.2 3.5l-1.4 2.6l-1.1 4l-.5 4l.1 9.2l-.7 2.7l-1 1.3l-2.5 1.3l-6.9 2l-4 1.6l-4 2.9l-1.9 2.7l-1 4l.2 2.6l.8 2.7l2.9 4l2.8 1.3zM560.3 755.4l4 .7l3.9-.2l5.3-1.5l3.8-2.1l3.1-2.6l2.8-4l1-3.9l-.4-2.7l-1.4-2.6l-3-2.6l-9.7-4l-2.8-2.1l-5.6-9.8l-5-5.5l-3.9-2.5l-4-.3l-2.5 1.7l-1.5 2.6l-.4 4l.5 4l8.3 26.4l2.5 3.9l3.8 2.7zM689.9 750.1l2.7 .2l2-1.9l-.1-2.7l-1.1-1.3l-2.2-.7l-1.3 .3l-1.3 1.1l-.7 2l.3 1.3l1.1 1.3zM596 682.4l10.6 1.1l14.6-.3l11.9-1.3l11.9-2.9l14.5-5.2l8.6-4.7l3-2.6l1.8-2.7l.7-2.6l-.3-2.6l-2.7-4l-3.8-2.7l-90.7 0l-2.6 1.7l-3.3 3.6l-1.5 4l.4 4l2.1 3.9l3.8 4l6.5 4.3l6.6 2.9l7.8 2z"/><path id="h50" d="M582.8 823.8l6.6 .3l6.6-.8l21.2-6.7l14.5-1.7l4-.8l2.6-1.1l3.1-2.5l1.1-2.7l-.3-2.6l-1.4-2.7l-2.8-2.6l-8.9-5.5l-4-3.1l-10.6-13.1l-2.6-2.6l-4-3l-5.3-2.4l-3.9-.8l-5.3-.1l-5.3 1l-6.6 3.1l-2.7 2l-3.2 3.4l-4 6.6l-1.2 3.9l-.7 4l-.4 18.5l.6 4l1.5 2.6l3.1 2.6l3 1.5l4.7 1.2zM561.6 748.4l4 .7l2.6-.6l2.7-1.4l2-2.7l.1-2.6l-.8-1.3l-2.6-1.8l-5.3-1.5l-2.7-.2l-2.2 .8l-1.4 2.7l.1 3.9l1.6 2.7l1.9 1.3zM589.4 673.1l4 .7l5.3 .1l3.9-.5l4-1.2l3.6-1.8l3-2.6l.9-1.3l.3-2.7l-1.7-2.6l-3.6-2.6l-7.8-3.4l-7.9-1l-4 .3l-4 1l-2.6 1.1l-2.8 2l-1.8 2.6l-.3 2.6l.9 2.7l2.3 2.6l4.3 2.7l4 1.3zM635.7 667.8l4 .8l5.3 .3l7.9-1.1l4-1.6l2.6-2l1.3-1.7l.2-2.6l-.6-1.3l-2.2-2.2l-5.3-2.1l-6.6-.7l-8 1.2l-3.9 1.6l-3.4 2.2l-2.2 2.6l-.3 1.3l.4 1.3l1.2 1.4l5.6 2.6z"/><path id="h51" d="M581.5 819.8l3.9 .9l5.3 .2l9.3-1.7l24-10.1l4-2.6l.5-1.3l-.6-2.7l-12.3-18.5l-5-5.8l-5.3-3.6l-4-1.6l-4-.8l-5.2 .1l-4 1l-4 1.7l-3.5 2.4l-3.1 3.2l-2.3 3.4l-2.1 5.3l-.8 5.3l1.3 15.9l.5 2.6l1.3 2.7l2.1 2l3.6 1.9zM563 744.7l1.3-.5l.5-1.1l-1-1.3l-.8-.3l-1.4 1.3l.8 1.6zM592.1 664l1.3 .6l1.3-.1l1-.7l-1-.9l-1.3-.4l-1.6 1.3z"/><path id="h52" d="M584.1 817.4l4 .8l5.3-.1l3.9-.7l5.3-1.6l6.6-3.1l5.8-3.6l3-2.6l1.7-2.6l.5-2.7l-.7-3.9l-4-9.3l-4.9-6.7l-2.8-2.5l-3.8-2.4l-4-1.5l-4-.6l-3.9 .2l-4 1l-4 1.9l-2.6 2l-2.7 2.8l-2 3.2l-1.6 3.9l-.7 4l0 5.3l.8 5.3l1.2 5.2l1.7 4l2 2.2l3 1.8z"/><path id="h53" d="M589.4 815.9l4 .1l3.9-.7l5.3-1.6l4-1.9l4.1-2.7l3-2.6l1.9-2.6l.9-2.7l0-3.9l-.9-4l-1.6-4l-2.4-3.9l-5-5.3l-2.6-1.7l-4-1.6l-4-.7l-3.9 .2l-2.7 .6l-4 1.8l-2.6 1.9l-2.6 2.8l-3.2 5.9l-.7 4l0 5.3l.8 3.9l1.7 5.6l1.4 2.5l2.1 2.5l3.1 1.9l2.8 .8z"/><path id="h54" d="M588.1 813.4l2.6 .5l4 0l4-.7l3.9-1.4l6.5-4l2.6-2.6l1.6-2.7l.8-2.6l0-4l-2.1-6.6l-2.4-3.9l-2.4-2.7l-3.2-2.5l-2.7-1.3l-2.6-.8l-4-.4l-4 .5l-2.6 .9l-2.7 1.4l-2.6 2.2l-3.6 5.3l-.9 2.7l-.6 3.9l.3 4l.9 3.9l3.1 6.6l2.1 2.3l3 1.7z"/><path id="h55" d="M590.7 812l2.7 .2l3.9-.4l6.7-2.5l5.2-4.1l1.9-2.7l.9-2.6l.3-2.6l-.5-4l-1.5-4l-1.6-2.6l-2.2-2.7l-2.5-2l-5.3-2.4l-2.7-.4l-3.9 .2l-5.3 2l-4.4 4l-2.6 5.3l-.5 2.6l0 4l1.8 6.6l1.7 3l1.9 2.2l2.1 1.6l2.9 1.1z"/><path id="h56" d="M593.4 810.6l3.9-.4l2.7-.7l5.4-3l3.6-4l1.2-2.6l.4-2.6l-.8-5.3l-1.1-2.7l-2.1-3.1l-2.6-2.6l-2.7-1.6l-5.3-1.4l-5.3 .5l-2.6 1.1l-2.6 1.8l-3.2 4l-1.6 5.3l-.1 2.6l.6 4l2.4 5.3l3.2 3.3l2.6 1.3l2.8 .7z"/><path id="h57" d="M589.4 808l2.7 .8l2.6 .2l5.5-1.2l5.1-3.1l1.8-2.2l1.4-2.6l.6-4l-1.3-5.2l-1.5-2.7l-2.3-2.6l-4-2.5l-4-1l-5.3 .6l-4.7 2.9l-2.9 3.9l-1.2 5.3l.7 5.3l2.8 5.1l3.6 2.8z"/><path id="h58" d="M590.7 806.8l4 .7l5.3-1.1l4-2.5l2.8-4l.8-4l-1.3-5.2l-2.8-4l-3.5-2.4l-4-1.1l-2.6 0l-2.7 .7l-3.9 2.5l-2.7 3.9l-.9 4.3l.9 5.3l2.3 4l3.6 2.6z"/><path id="h59" d="M590.7 805.2l4 .8l4-.6l3.9-2.3l2.7-3.5l.7-2.3l.1-2.7l-1.3-3.9l-2.2-3l-3.9-2.6l-4-.6l-4 .8l-2.6 1.7l-2.7 3.7l-.9 3.9l.5 4l2.2 3.9l3.5 2.7z"/><path id="h60" d="M592.1 804.1l2.6 .4l4-.7l3.8-2.6l1.6-2.6l.5-2.7l-.7-3.9l-2.6-3.7l-2.6-1.7l-4-.8l-3.6 .9l-3 2.3l-1.7 3l-.5 2.6l.6 4l1.6 2.7l3.5 2.6z"/><path id="h61" d="M593.4 802.8l2.6 .1l2.7-.7l2.6-2.1l1.5-2.8l.2-2.7l-.7-2.6l-2-2.7l-3-1.6l-2.6-.4l-2.6 .6l-2.7 1.8l-1.5 2.3l-.6 2.6l.8 4l2.1 2.6l2.4 1.3z"/><path id="h62" d="M683.3 825.9l.2 .4l27.6 0l0-69.6l-1.6-3l-.6-2.7l.3-2.6l1.9-4.4l0-76.7l-6.6-1.9l-5.3 0l-6.6 1.6l-9.3 4.2l-15.9 8.3l-6.5 4.2l-4.8 3.9l-3.3 4l-1.4 3.9l.1 2.7l.9 2.6l3.1 4.9l6.6 6l10.6 5.8l3.9 3.1l2.6 4l4.5 9.3l1.9 2.6l9.6 2.9l2.7 1.8l1.8 1.9l1.4 2.6l.5 2.7l-.6 2.6l-.8 1.3l-2.3 2.3l-2.7 1.5l-2.6 .7l-2.7-.1l-3.9-1.8l-2.6-2.6l-4.1-5.8l-3.9-2.4l-5.3-2.1l-5.3-1.1l-4-.2l-5.3 .6l-5.3 1.5l-5.2 2.2l-6.7 4.4l-4 4.3l-4.7 6.6l-2.1 3.9l-1.2 4l0 2.6l.7 2.7l2.4 3.9l3.7 3.4l5.2 3l6.7 2.2l6.6 1.3l6.6 .3l11.9-.9l2.6 .5l1.2 .8l1.8 4l3.8 22.4l1.3 5.3l2 5.3zM516.7 821.3l2.6 .7l2.7 .1l6.6-1.7l6.6-3.9l6.6-6.2l6.6-7.9l3.4-5.1l9.9-25.1l0-2.7l-.6-1.3l-8.7-8.3l-2.7-4.5l-1.3-3.5l-3.6-14.1l-4.8-13.2l-1.4-5.3l-.2-6.6l1.6-5.3l1.8-2.6l2.6-2.2l2.7-1.1l4-.6l6.5 1.2l12 6.1l2.6 .7l1.3-.1l1.4-.8l1.3-1.7l1.9-5.5l.3-6.6l-1.6-5.3l-3.3-5.2l-10.2-11.9l-4.8-6.6l-3-6.6l-.8-6.7l-76.4 0l0 39.5l4 .8l1.2 .7l.9 1.3l-.1 1.3l-.7 1.4l-2.6 1.7l-2.7 .8l0 71.6l5.3 1.9l4 2.3l3.9 3.2l2.7 3l4 7l6.3 16.8l2.9 6.3l4 6l2.6 2.4l2.1 1.1z"/><path id="h63" d="M516.7 800.4l3.9 .6l4-1l4-2.4l3.9-3.8l3.5-4.5l3.9-6.6l3.3-7.9l1.7-6.6l.3-4l-.3-5.2l-3-15.9l-2.7-7.9l-5.8-11.9l-1.1-4l-.5-7.9l1.4-6.6l2.3-4l4.5-3.9l4.4-2.4l9.3-3.5l2.6-1.7l2.4-3l.4-2.6l-.5-2.7l-1.1-2.6l-3.8-5.3l-6.6-6.2l-7.9-5.3l-8-3.7l-7.9-2.4l-7.9-1.3l-8-.1l-9.2 1.3l-9.3 3.1l-6.1 4l-2.7 4l-.2 3.9l1.9 4l4 4l11.5 9.2l2.2 2.7l1 2.6l-.3 2.6l-2.1 2.7l-9.2 6.8l-5 5.1l-2.1 3.9l-.7 5.3l1.3 5.3l4.8 9.3l4.3 9.9l8 12.8l1.8 3.7l2.1 7.6l3.1 16.1l2.6 8l3.3 5.3l3.2 2.6zM646.3 780.2l3.9 .6l4 0l6.6-1.4l6.3-3.3l4.1-3.9l2.7-5.3l.4-5.3l-1.9-5.3l-3.6-4.1l-2.7-1.8l-4-1.7l-3.9-.8l-5.3 .1l-4 .9l-3.9 1.7l-4 2.7l-3 3l-2.7 4l-1.6 3.9l-.3 4l.6 2.6l1.7 3.2l2.6 2.6l3.6 2.2l3.8 1.3zM697.9 717.2l3.9 0l2.7-1.5l1.3-1.3l2.6-4.3l2.7-7.7l0-17.6l-1.5-2.5l-2.5-2.6l-4-2.2l-3.9-1l-5.3-.1l-5.3 .9l-6.6 2.1l-6.4 2.9l-5.5 3.5l-3.5 3.1l-2.7 4l-.6 2.6l.4 2.7l2.4 3.3l5.3 3l14.6 5.3l10.6 6.9z"/><path id="h64" d="M519.3 792.4l2.7 .2l2.6-.8l3.9-2.5l2.7-2.8l2.7-3.8l2.8-5.3l2-5.2l1.3-5.3l.5-5.3l-.2-5.3l-1.1-6.6l-1.4-4.7l-1.4-3.2l-2.5-3.7l-2.7-2.3l-2.6-1.1l-2.7-.2l-2.6 1l-4 3.8l-2.3 3.8l-2.3 5.3l-2.9 10.6l-1.2 10.5l.7 10.6l1 3.9l1.7 3.8l2.3 2.9l2 1.3zM648.9 776.3l5.3 .1l5.3-1.4l4-2.3l2.9-3.2l1.8-3.9l.1-4l-1.8-4l-3-2.9l-5.3-2.2l-2.7-.4l-3.9 .3l-4 1.2l-2.5 1.4l-4.3 4l-1.5 2.6l-.8 2.6l-.2 2.7l.7 2.6l1.8 2.7l1.5 1.4l2.7 1.5l3 1zM496.8 724.7l5.3 1l5.3-.3l4-1.2l4-2.6l2.5-3.6l1.3-5.3l-.5-3.9l-2.3-4l-2.4-1.7l-2.6-.9l-6.6 .2l-6.6 2.1l-2.9 1.6l-3.4 2.7l-2.6 3.9l-.6 2.7l.4 2.6l1.1 2.1l1.8 1.9l4.7 2.6zM686 701l5.2 .8l4-.1l2.7-.7l2.1-1.5l2-2.6l1.2-4l-.5-4l-1.6-2.6l-1.9-1.5l-2.7-1.1l-2.6-.5l-4 .2l-6.6 1.9l-5.9 3.6l-2 2.5l-.6 1.5l.4 2.6l2.8 2.7l7.4 2.6zM518 691.9l4 .7l5.3-.3l6.6-1.8l6.6-2.9l3.8-2.6l1.9-2.7l.3-2.6l-.9-2.7l-3.2-3.9l-5.6-4l-6.9-3.1l-6.6-1.9l-7.9-1.1l-6.7 0l-6.6 1.4l-4.3 2.1l-2.4 2.6l-.4 2.7l.8 2.6l1.8 2.6l4 4l5.8 4.7l5.3 3.6l4.5 2.3z"/><path id="h65" d="M520.6 785.7l1.4 .2l2.6-.4l2.7-1.6l2.5-2.5l4-6.6l2.2-6.6l.8-7.9l-.9-6.6l-2.2-5.3l-1.2-1.4l-2.6-1.6l-1.3-.1l-2.7 .7l-3.9 3.4l-3.5 5.6l-2.4 6.6l-1.2 7.9l.2 6.6l1.6 5.6l1.3 2l2 1.7zM648.9 772.2l4 .4l2.7-.4l3.1-1.4l3.1-2.6l1.3-2.6l.2-2.7l-.8-2.6l-1.7-2l-3.9-2l-4-.2l-4.9 1.5l-3.2 2.7l-1.5 2.6l-.1 4l1.8 3l3.9 2.3zM499.5 718.2l4.3-.2l2.3-1.1l1.3-1.3l1.1-2.9l-1.2-2.6l-2.5-1.3l-2.7-.1l-2.6 .7l-2.7 1.9l-.9 1.4l-.1 2.7l1 1.5l2 1.1zM518 681.1l5.3 .9l5.3-.7l2.4-1.6l.5-1.3l-.2-1.4l-2.4-2.6l-5.6-2.5l-5.3-.7l-5.3 .8l-1.5 1.1l-.5 1.3l.2 1.3l2.1 2.7l4.8 2.6z"/><path id="h66" d="M523.3 779.2l2.6-.7l2.7-2.5l2.6-4.7l1.3-4.4l.4-4l-.4-4.1l-1.3-3.3l-1.3-1.4l-1.3-.5l-2.7 .5l-2.6 2.4l-2.2 3.8l-1.4 3.9l-.8 5.3l.2 4l1.5 3.9l1.4 1.4zM651.6 767.2l2.6-.1l2.1-1.5l.6-1.4l-.3-1.3l-1.1-1.1l-2.6-.5l-2.7 1.2l-.9 1.7l.2 1.4l1.3 1.3z"/></defs><g clip-path="url(#c3)"><rect x="478.3" y="651.9" width="232.8" height="174.4" fill="#fff"/><use href="#h49" x="-0.55" y="-0.55" fill="#fff" fill-opacity="0.80"/><use href="#h49" x="0.55" y="0.55" fill="#600000" fill-opacity="0.50"/><use href="#h49" fill="#ffc8c8"/><use href="#h50" x="-0.55" y="-0.55" fill="#fff" fill-opacity="0.80"/><use href="#h50" x="0.55" y="0.55" fill="#600000" fill-opacity="0.50"/><use href="#h50" fill="#ff9090"/><use href="#h51" x="-0.55" y="-0.55" fill="#fff" fill-opacity="0.80"/><use href="#h51" x="0.55" y="0.55" fill="#600000" fill-opacity="0.50"/><use href="#h51" fill="#ff6060"/><use href="#h52" x="-0.55" y="-0.55" fill="#fff" fill-opacity="0.80"/><use href="#h52" x="0.55" y="0.55" fill="#600000" fill-opacity="0.50"/><use href="#h52" fill="#ff2a2a"/><use href="#h53" x="-0.55" y="-0.55" fill="#fff" fill-opacity="0.80"/><use href="#h53" x="0.55" y="0.55" fill="#600000" fill-opacity="0.50"/><use href="#h53" fill="#ff0000"/><use href="#h54" x="-0.55" y="-0.55" fill="#fff" fill-opacity="0.80"/><use href="#h54" x="0.55" y="0.55" fill="#600000" fill-opacity="0.50"/><use href="#h54" fill="#cc0000"/><use href="#h55" x="-0.55" y="-0.55" fill="#fff" fill-opacity="0.80"/><use href="#h55" x="0.55" y="0.55" fill="#600000" fill-opacity="0.50"/><use href="#h55" fill="#b40000"/><use href="#h56" x="-0.55" y="-0.55" fill="#fff" fill-opacity="0.80"/><use href="#h56" x="0.55" y="0.55" fill="#600000" fill-opacity="0.50"/><use href="#h56" fill="#9d0000"/><use href="#h57" x="-0.55" y="-0.55" fill="#fff" fill-opacity="0.80"/><use href="#h57" x="0.55" y="0.55" fill="#600000" fill-opacity="0.50"/><use href="#h57" fill="#800000"/><use href="#h58" x="-0.55" y="-0.55" fill="#fff" fill-opacity="0.80"/><use href="#h58" x="0.55" y="0.55" fill="#600000" fill-opacity="0.50"/><use href="#h58" fill="#7c0000"/><use href="#h59" x="-0.55" y="-0.55" fill="#fff" fill-opacity="0.80"/><use href="#h59" x="0.55" y="0.55" fill="#600000" fill-opacity="0.50"/><use href="#h59" fill="#7c0000"/><use href="#h60" x="-0.55" y="-0.55" fill="#fff" fill-opacity="0.80"/><use href="#h60" x="0.55" y="0.55" fill="#600000" fill-opacity="0.50"/><use href="#h60" fill="#7c0000"/><use href="#h61" x="-0.55" y="-0.55" fill="#fff" fill-opacity="0.80"/><use href="#h61" x="0.55" y="0.55" fill="#600000" fill-opacity="0.50"/><use href="#h61" fill="#7c0000"/><use href="#h62" x="0.55" y="0.55" fill="#fff" fill-opacity="0.80"/><use href="#h62" x="-0.55" y="-0.55" fill="#000050" fill-opacity="0.50"/><use href="#h62" fill="#c8c8ff"/><use href="#h63" x="0.55" y="0.55" fill="#fff" fill-opacity="0.80"/><use href="#h63" x="-0.55" y="-0.55" fill="#000050" fill-opacity="0.50"/><use href="#h63" fill="#9a9aff"/><use href="#h64" x="0.55" y="0.55" fill="#fff" fill-opacity="0.80"/><use href="#h64" x="-0.55" y="-0.55" fill="#000050" fill-opacity="0.50"/><use href="#h64" fill="#6060ff"/><use href="#h65" x="0.55" y="0.55" fill="#fff" fill-opacity="0.80"/><use href="#h65" x="-0.55" y="-0.55" fill="#000050" fill-opacity="0.50"/><use href="#h65" fill="#2a2aff"/><use href="#h66" x="0.55" y="0.55" fill="#fff" fill-opacity="0.80"/><use href="#h66" x="-0.55" y="-0.55" fill="#000050" fill-opacity="0.50"/><use href="#h66" fill="#0000ff"/></g></g><ellipse cx="536.5" cy="770.8" rx="39.7" ry="39.6" fill="none" stroke="#c83050" stroke-width="0.5" opacity="0.55"/><ellipse cx="652.9" cy="770.8" rx="39.7" ry="39.6" fill="none" stroke="#c83050" stroke-width="0.5" opacity="0.55"/><rect x="482.3" y="653.3" width="224.8" height="2.6" fill="#8090c0" opacity="0.5"/><rect x="482.3" y="585.9" width="224.8" height="3.2" fill="#f0b8c4"/><line x1="482.3" y1="823.7" x2="707.1" y2="823.7" stroke="#f4b0c0" stroke-width="1.6" opacity="0.8" clip-path="url(#c3)"/><rect x="584.1" y="809.1" width="21.2" height="14.5" rx="3" fill="#00ffff" opacity="0.15"/><rect x="586.8" y="826.3" width="15.9" height="6.9" fill="#707070" stroke="#555" stroke-width="0.5"/><path d="M482.3 585.9L482.3 778.8A74.1 74.0 0 0 0 556.3 852.7L633.1 852.7A74.1 74.0 0 0 0 707.1 778.8L707.1 585.9" fill="none" stroke="#606060" stroke-width="1.6"/><text x="451.5" y="496.8" font-size="38.00" text-anchor="start" fill="#1c2128" textLength="64.0" lengthAdjust="spacingAndGlyphs" stroke="#fff" stroke-width="0.55">5v5</text><text x="527.2" y="497.8" font-size="38" fill="#1c2128" textLength="166.5" lengthAdjust="spacingAndGlyphs" stroke="#fff" stroke-width="0.55"><tspan font-size="46">(</tspan>without<tspan font-size="46">)</tspan></text><text x="601.7" y="547.5" font-size="25.50" text-anchor="middle" fill="#000" textLength="216.0" lengthAdjust="spacingAndGlyphs">MIN 5v5 Defence</text><text x="594.7" y="561.2" font-size="8.20" text-anchor="middle" fill="#111">2025-2026, Regular Season</text><text x="594.7" y="570.1" font-size="8.20" text-anchor="middle" fill="#111">Shot Rates, Relative to League Average for the Season</text><text x="594.7" y="579.0" font-size="8.20" text-anchor="middle" fill="#111">Micah Blake McCurdy, @hockeyviz.com</text><line x1="478.8" y1="823.7" x2="482.3" y2="823.7" stroke="#555" stroke-width="0.7"/><text x="477.3" y="826.7" font-size="8.50" text-anchor="end" fill="#111">0</text><line x1="478.8" y1="797.3" x2="482.3" y2="797.3" stroke="#555" stroke-width="0.7"/><text x="477.3" y="800.3" font-size="8.50" text-anchor="end" fill="#111">10</text><line x1="478.8" y1="770.8" x2="482.3" y2="770.8" stroke="#555" stroke-width="0.7"/><text x="477.3" y="773.8" font-size="8.50" text-anchor="end" fill="#111">20</text><line x1="478.8" y1="744.4" x2="482.3" y2="744.4" stroke="#555" stroke-width="0.7"/><text x="477.3" y="747.4" font-size="8.50" text-anchor="end" fill="#111">30</text><line x1="478.8" y1="718.0" x2="482.3" y2="718.0" stroke="#555" stroke-width="0.7"/><text x="477.3" y="721.0" font-size="8.50" text-anchor="end" fill="#111">40</text><line x1="478.8" y1="691.6" x2="482.3" y2="691.6" stroke="#555" stroke-width="0.7"/><text x="477.3" y="694.6" font-size="8.50" text-anchor="end" fill="#111">50</text><line x1="478.8" y1="665.2" x2="482.3" y2="665.2" stroke="#555" stroke-width="0.7"/><text x="477.3" y="668.2" font-size="8.50" text-anchor="end" fill="#111">60</text><line x1="478.8" y1="638.7" x2="482.3" y2="638.7" stroke="#555" stroke-width="0.7"/><text x="477.3" y="641.7" font-size="8.50" text-anchor="end" fill="#111">70</text><line x1="478.8" y1="612.3" x2="482.3" y2="612.3" stroke="#555" stroke-width="0.7"/><text x="477.3" y="615.3" font-size="8.50" text-anchor="end" fill="#111">80</text><line x1="478.8" y1="585.9" x2="482.3" y2="585.9" stroke="#555" stroke-width="0.7"/><text x="477.3" y="588.9" font-size="8.50" text-anchor="end" fill="#111">90</text><line x1="488.9" y1="852.8" x2="488.9" y2="856.3" stroke="#555" stroke-width="0.7"/><text x="488.9" y="865.3" font-size="8.50" text-anchor="middle" fill="#111">40</text><line x1="515.4" y1="852.8" x2="515.4" y2="856.3" stroke="#555" stroke-width="0.7"/><text x="515.4" y="865.3" font-size="8.50" text-anchor="middle" fill="#111">30</text><line x1="541.8" y1="852.8" x2="541.8" y2="856.3" stroke="#555" stroke-width="0.7"/><text x="541.8" y="865.3" font-size="8.50" text-anchor="middle" fill="#111">20</text><line x1="568.2" y1="852.8" x2="568.2" y2="856.3" stroke="#555" stroke-width="0.7"/><text x="568.2" y="865.3" font-size="8.50" text-anchor="middle" fill="#111">10</text><line x1="594.7" y1="852.8" x2="594.7" y2="856.3" stroke="#555" stroke-width="0.7"/><text x="594.7" y="865.3" font-size="8.50" text-anchor="middle" fill="#111">0</text><line x1="621.2" y1="852.8" x2="621.2" y2="856.3" stroke="#555" stroke-width="0.7"/><text x="621.2" y="865.3" font-size="8.50" text-anchor="middle" fill="#111">10</text><line x1="647.6" y1="852.8" x2="647.6" y2="856.3" stroke="#555" stroke-width="0.7"/><text x="647.6" y="865.3" font-size="8.50" text-anchor="middle" fill="#111">20</text><line x1="674.1" y1="852.8" x2="674.1" y2="856.3" stroke="#555" stroke-width="0.7"/><text x="674.1" y="865.3" font-size="8.50" text-anchor="middle" fill="#111">30</text><line x1="700.5" y1="852.8" x2="700.5" y2="856.3" stroke="#555" stroke-width="0.7"/><text x="700.5" y="865.3" font-size="8.50" text-anchor="middle" fill="#111">40</text><text x="594.7" y="874.5" font-size="8.30" text-anchor="middle" fill="#111" textLength="118.0" lengthAdjust="spacingAndGlyphs">Distance from centre of rink (ft)</text><text x="601.7" y="883.0" font-size="4.60" text-anchor="middle" fill="#111" textLength="57.0" lengthAdjust="spacingAndGlyphs">Generated on 2025-11-05</text><text transform="translate(463.3 720.0) rotate(-90)" font-size="8.3" text-anchor="middle" fill="#111" textLength="98" lengthAdjust="spacingAndGlyphs">Distance from goal line (ft)</text><rect x="522.3" y="595.4" width="144.0" height="51.0" rx="3" fill="#fff" stroke="#555" stroke-width="0.8"/><text x="594.7" y="609.9" font-size="13.50" text-anchor="middle" fill="#000" textLength="92.5" lengthAdjust="spacingAndGlyphs">Without Jiříček</text><text x="594.7" y="625.1" font-size="13.50" text-anchor="middle" fill="#000" textLength="137.5" lengthAdjust="spacingAndGlyphs">564 minutes, 25.7 xG</text><text x="594.7" y="640.3" font-size="13.50" text-anchor="middle" fill="#000" textLength="128.0" lengthAdjust="spacingAndGlyphs">xGA/60: 2.73 (+8%)</text><path d="M719.3 629.3L724.7 619.9L730.1 629.3V630.3H719.3Z" fill="#7c0000"/><rect x="719.3" y="629.3" width="10.8" height="9.99" fill="#800000" shape-rendering="crispEdges"/><text x="732.3" y="635.3" font-size="6.00" text-anchor="start" fill="#222" textLength="13.2" lengthAdjust="spacingAndGlyphs" font-family="Liberation Mono">+0.9</text><rect x="719.3" y="638.7" width="10.8" height="9.99" fill="#9d0000" shape-rendering="crispEdges"/><text x="732.3" y="644.7" font-size="6.00" text-anchor="start" fill="#222" textLength="13.2" lengthAdjust="spacingAndGlyphs" font-family="Liberation Mono">+0.8</text><rect x="719.3" y="648.1" width="10.8" height="9.99" fill="#b40000" shape-rendering="crispEdges"/><text x="732.3" y="654.1" font-size="6.00" text-anchor="start" fill="#222" textLength="13.2" lengthAdjust="spacingAndGlyphs" font-family="Liberation Mono">+0.7</text><rect x="719.3" y="657.4" width="10.8" height="9.99" fill="#cc0000" shape-rendering="crispEdges"/><text x="732.3" y="663.4" font-size="6.00" text-anchor="start" fill="#222" textLength="13.2" lengthAdjust="spacingAndGlyphs" font-family="Liberation Mono">+0.6</text><rect x="719.3" y="666.8" width="10.8" height="9.99" fill="#ff0000" shape-rendering="crispEdges"/><text x="732.3" y="672.8" font-size="6.00" text-anchor="start" fill="#222" textLength="13.2" lengthAdjust="spacingAndGlyphs" font-family="Liberation Mono">+0.5</text><rect x="719.3" y="676.2" width="10.8" height="9.99" fill="#ff2a2a" shape-rendering="crispEdges"/><text x="732.3" y="682.2" font-size="6.00" text-anchor="start" fill="#222" textLength="13.2" lengthAdjust="spacingAndGlyphs" font-family="Liberation Mono">+0.4</text><rect x="719.3" y="685.6" width="10.8" height="9.99" fill="#ff6060" shape-rendering="crispEdges"/><text x="732.3" y="691.6" font-size="6.00" text-anchor="start" fill="#222" textLength="13.2" lengthAdjust="spacingAndGlyphs" font-family="Liberation Mono">+0.3</text><rect x="719.3" y="695.0" width="10.8" height="9.99" fill="#ff9090" shape-rendering="crispEdges"/><text x="732.3" y="701.0" font-size="6.00" text-anchor="start" fill="#222" textLength="13.2" lengthAdjust="spacingAndGlyphs" font-family="Liberation Mono">+0.2</text><rect x="719.3" y="704.4" width="10.8" height="9.99" fill="#ffc8c8" shape-rendering="crispEdges"/><text x="732.3" y="710.4" font-size="6.00" text-anchor="start" fill="#222" textLength="13.2" lengthAdjust="spacingAndGlyphs" font-family="Liberation Mono">+0.1</text><rect x="719.3" y="713.8" width="10.8" height="9.99" fill="#ffffff" shape-rendering="crispEdges"/><text x="732.3" y="719.8" font-size="6.00" text-anchor="start" fill="#222" textLength="13.2" lengthAdjust="spacingAndGlyphs" font-family="Liberation Mono">+0.0</text><rect x="719.3" y="723.1" width="10.8" height="9.99" fill="#c8c8ff" shape-rendering="crispEdges"/><text x="732.3" y="729.1" font-size="6.00" text-anchor="start" fill="#222" textLength="13.2" lengthAdjust="spacingAndGlyphs" font-family="Liberation Mono">−0.1</text><rect x="719.3" y="732.5" width="10.8" height="9.99" fill="#9a9aff" shape-rendering="crispEdges"/><text x="732.3" y="738.5" font-size="6.00" text-anchor="start" fill="#222" textLength="13.2" lengthAdjust="spacingAndGlyphs" font-family="Liberation Mono">−0.2</text><rect x="719.3" y="741.9" width="10.8" height="9.99" fill="#6060ff" shape-rendering="crispEdges"/><text x="732.3" y="747.9" font-size="6.00" text-anchor="start" fill="#222" textLength="13.2" lengthAdjust="spacingAndGlyphs" font-family="Liberation Mono">−0.3</text><rect x="719.3" y="751.3" width="10.8" height="9.99" fill="#2a2aff" shape-rendering="crispEdges"/><text x="732.3" y="757.3" font-size="6.00" text-anchor="start" fill="#222" textLength="13.2" lengthAdjust="spacingAndGlyphs" font-family="Liberation Mono">−0.4</text><rect x="719.3" y="760.7" width="10.8" height="9.99" fill="#0000ff" shape-rendering="crispEdges"/><text x="732.3" y="766.7" font-size="6.00" text-anchor="start" fill="#222" textLength="13.2" lengthAdjust="spacingAndGlyphs" font-family="Liberation Mono">−0.5</text><rect x="719.3" y="770.1" width="10.8" height="9.99" fill="#0000d8" shape-rendering="crispEdges"/><text x="732.3" y="776.1" font-size="6.00" text-anchor="start" fill="#222" textLength="13.2" lengthAdjust="spacingAndGlyphs" font-family="Liberation Mono">−0.6</text><rect x="719.3" y="779.5" width="10.8" height="9.99" fill="#1800b8" shape-rendering="crispEdges"/><text x="732.3" y="785.5" font-size="6.00" text-anchor="start" fill="#222" textLength="13.2" lengthAdjust="spacingAndGlyphs" font-family="Liberation Mono">−0.7</text><rect x="719.3" y="788.8" width="10.8" height="9.99" fill="#2c0098" shape-rendering="crispEdges"/><text x="732.3" y="794.8" font-size="6.00" text-anchor="start" fill="#222" textLength="13.2" lengthAdjust="spacingAndGlyphs" font-family="Liberation Mono">−0.8</text><rect x="719.3" y="798.2" width="10.8" height="9.99" fill="#3a0080" shape-rendering="crispEdges"/><text x="732.3" y="804.2" font-size="6.00" text-anchor="start" fill="#222" textLength="13.2" lengthAdjust="spacingAndGlyphs" font-family="Liberation Mono">−0.9</text><path d="M719.3 807.6L724.7 817.0L730.1 807.6V807.1H719.3Z" fill="#4a0078"/><path d="M719.3 629.3L724.7 619.9L730.1 629.3L730.1 807.6L724.7 817.0L719.3 807.6Z" fill="none" stroke="#333" stroke-width="0.6"/><text x="732.0" y="583.6" font-size="6.80" text-anchor="middle" fill="#111">Excess</text><text x="732.0" y="591.6" font-size="6.80" text-anchor="middle" fill="#111">weighted</text><text x="732.0" y="599.7" font-size="6.80" text-anchor="middle" fill="#111">shots</text><text x="732.0" y="607.8" font-size="6.80" text-anchor="middle" fill="#111">per hour</text><circle cx="732.0" cy="852.3" r="14.7" fill="#fff" stroke="#222" stroke-width="1.0"/><text x="732.0" y="846.7" font-size="6.50" text-anchor="middle" fill="#111">per</text><text x="732.0" y="854.7" font-size="6.50" text-anchor="middle" fill="#111">100</text><text x="732.0" y="862.7" font-size="6.50" text-anchor="middle" fill="#111">sqft</text></svg></body></html>
